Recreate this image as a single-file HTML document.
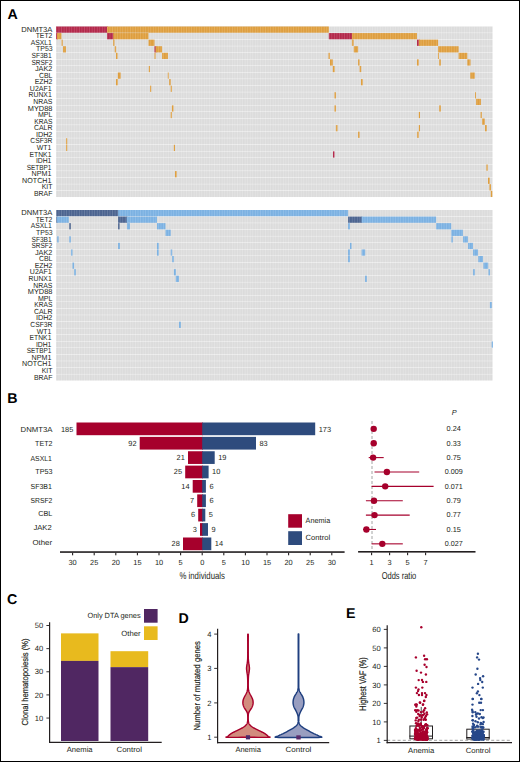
<!DOCTYPE html>
<html><head><meta charset="utf-8"><title>Figure</title>
<style>
html,body{margin:0;padding:0;background:#fff;}
body{width:520px;height:762px;overflow:hidden;}
svg{display:block;font-family:"Liberation Sans", sans-serif;text-rendering:geometricPrecision;}
</style></head>
<body>
<svg width="520" height="762" viewBox="0 0 520 762">
<defs>
<pattern id="cols" x="56" y="0" width="2.55" height="10" patternUnits="userSpaceOnUse">
<rect x="0" y="0" width="0.8" height="10" fill="#ffffff" fill-opacity="0.16"/>
<rect x="1.3" y="0" width="0.6" height="10" fill="#000000" fill-opacity="0.025"/>
</pattern>
</defs>
<rect x="0" y="0" width="520" height="762" fill="#fff"/>
<text x="7.40" y="18.80" font-size="14.2" text-anchor="start" fill="#000" font-weight="bold">A</text>
<rect x="56.00" y="26.50" width="436.60" height="6.22" fill="#dedede"/>
<rect x="56.00" y="33.07" width="436.60" height="6.22" fill="#dedede"/>
<rect x="56.00" y="39.64" width="436.60" height="6.22" fill="#dedede"/>
<rect x="56.00" y="46.22" width="436.60" height="6.22" fill="#dedede"/>
<rect x="56.00" y="52.79" width="436.60" height="6.22" fill="#dedede"/>
<rect x="56.00" y="59.36" width="436.60" height="6.22" fill="#dedede"/>
<rect x="56.00" y="65.93" width="436.60" height="6.22" fill="#dedede"/>
<rect x="56.00" y="72.50" width="436.60" height="6.22" fill="#dedede"/>
<rect x="56.00" y="79.08" width="436.60" height="6.22" fill="#dedede"/>
<rect x="56.00" y="85.65" width="436.60" height="6.22" fill="#dedede"/>
<rect x="56.00" y="92.22" width="436.60" height="6.22" fill="#dedede"/>
<rect x="56.00" y="98.79" width="436.60" height="6.22" fill="#dedede"/>
<rect x="56.00" y="105.36" width="436.60" height="6.22" fill="#dedede"/>
<rect x="56.00" y="111.94" width="436.60" height="6.22" fill="#dedede"/>
<rect x="56.00" y="118.51" width="436.60" height="6.22" fill="#dedede"/>
<rect x="56.00" y="125.08" width="436.60" height="6.22" fill="#dedede"/>
<rect x="56.00" y="131.65" width="436.60" height="6.22" fill="#dedede"/>
<rect x="56.00" y="138.22" width="436.60" height="6.22" fill="#dedede"/>
<rect x="56.00" y="144.80" width="436.60" height="6.22" fill="#dedede"/>
<rect x="56.00" y="151.37" width="436.60" height="6.22" fill="#dedede"/>
<rect x="56.00" y="157.94" width="436.60" height="6.22" fill="#dedede"/>
<rect x="56.00" y="164.51" width="436.60" height="6.22" fill="#dedede"/>
<rect x="56.00" y="171.08" width="436.60" height="6.22" fill="#dedede"/>
<rect x="56.00" y="177.66" width="436.60" height="6.22" fill="#dedede"/>
<rect x="56.00" y="184.23" width="436.60" height="6.22" fill="#dedede"/>
<rect x="56.00" y="190.80" width="436.60" height="6.22" fill="#dedede"/>
<rect x="56.00" y="26.50" width="51.80" height="6.22" fill="#b5294c"/>
<rect x="107.00" y="26.50" width="221.80" height="6.22" fill="#e0a040"/>
<rect x="56.00" y="33.07" width="1.80" height="6.22" fill="#b5294c"/>
<rect x="57.00" y="33.07" width="4.50" height="6.22" fill="#e0a040"/>
<rect x="107.00" y="33.07" width="7.00" height="6.22" fill="#b5294c"/>
<rect x="113.20" y="33.07" width="35.30" height="6.22" fill="#e0a040"/>
<rect x="328.80" y="33.07" width="23.90" height="6.22" fill="#b5294c"/>
<rect x="351.90" y="33.07" width="65.10" height="6.22" fill="#e0a040"/>
<rect x="61.50" y="39.64" width="1.20" height="6.22" fill="#e0a040"/>
<rect x="113.20" y="39.64" width="1.30" height="6.22" fill="#e0a040"/>
<rect x="148.50" y="39.64" width="6.00" height="6.22" fill="#e0a040"/>
<rect x="351.90" y="39.64" width="1.70" height="6.22" fill="#e0a040"/>
<rect x="417.00" y="39.64" width="2.60" height="6.22" fill="#b5294c"/>
<rect x="418.80" y="39.64" width="19.30" height="6.22" fill="#e0a040"/>
<rect x="63.00" y="46.22" width="2.90" height="6.22" fill="#e0a040"/>
<rect x="114.70" y="46.22" width="1.40" height="6.22" fill="#e0a040"/>
<rect x="154.50" y="46.22" width="1.90" height="6.22" fill="#b5294c"/>
<rect x="155.60" y="46.22" width="6.50" height="6.22" fill="#e0a040"/>
<rect x="353.80" y="46.22" width="4.30" height="6.22" fill="#e0a040"/>
<rect x="438.10" y="46.22" width="20.50" height="6.22" fill="#e0a040"/>
<rect x="116.00" y="52.79" width="1.60" height="6.22" fill="#e0a040"/>
<rect x="154.50" y="52.79" width="1.10" height="6.22" fill="#e0a040"/>
<rect x="162.10" y="52.79" width="5.80" height="6.22" fill="#e0a040"/>
<rect x="328.50" y="52.79" width="1.40" height="6.22" fill="#e0a040"/>
<rect x="438.10" y="52.79" width="0.90" height="6.22" fill="#e0a040"/>
<rect x="458.60" y="52.79" width="8.70" height="6.22" fill="#e0a040"/>
<rect x="330.00" y="59.36" width="2.80" height="6.22" fill="#e0a040"/>
<rect x="358.10" y="59.36" width="1.50" height="6.22" fill="#e0a040"/>
<rect x="417.00" y="59.36" width="1.80" height="6.22" fill="#e0a040"/>
<rect x="439.20" y="59.36" width="1.60" height="6.22" fill="#e0a040"/>
<rect x="467.30" y="59.36" width="3.20" height="6.22" fill="#e0a040"/>
<rect x="148.80" y="65.93" width="1.10" height="6.22" fill="#e0a040"/>
<rect x="332.80" y="65.93" width="1.90" height="6.22" fill="#e0a040"/>
<rect x="359.60" y="65.93" width="1.60" height="6.22" fill="#e0a040"/>
<rect x="117.80" y="72.50" width="2.90" height="6.22" fill="#e0a040"/>
<rect x="167.80" y="72.50" width="1.00" height="6.22" fill="#e0a040"/>
<rect x="470.30" y="72.50" width="4.50" height="6.22" fill="#e0a040"/>
<rect x="116.00" y="79.08" width="1.80" height="6.22" fill="#e0a040"/>
<rect x="169.20" y="79.08" width="1.50" height="6.22" fill="#e0a040"/>
<rect x="361.00" y="79.08" width="1.80" height="6.22" fill="#e0a040"/>
<rect x="150.00" y="85.65" width="1.20" height="6.22" fill="#e0a040"/>
<rect x="170.70" y="85.65" width="1.20" height="6.22" fill="#e0a040"/>
<rect x="334.40" y="92.22" width="1.50" height="6.22" fill="#e0a040"/>
<rect x="475.00" y="92.22" width="0.90" height="6.22" fill="#e0a040"/>
<rect x="476.10" y="98.79" width="4.80" height="6.22" fill="#e0a040"/>
<rect x="171.90" y="105.36" width="1.60" height="6.22" fill="#e0a040"/>
<rect x="334.40" y="105.36" width="1.50" height="6.22" fill="#e0a040"/>
<rect x="439.20" y="105.36" width="1.60" height="6.22" fill="#e0a040"/>
<rect x="170.70" y="111.94" width="1.20" height="6.22" fill="#e0a040"/>
<rect x="418.80" y="111.94" width="1.20" height="6.22" fill="#e0a040"/>
<rect x="480.60" y="111.94" width="1.20" height="6.22" fill="#e0a040"/>
<rect x="482.10" y="118.51" width="2.70" height="6.22" fill="#e0a040"/>
<rect x="335.90" y="125.08" width="1.60" height="6.22" fill="#e0a040"/>
<rect x="418.80" y="125.08" width="1.20" height="6.22" fill="#e0a040"/>
<rect x="485.00" y="125.08" width="1.70" height="6.22" fill="#e0a040"/>
<rect x="358.10" y="131.65" width="1.50" height="6.22" fill="#e0a040"/>
<rect x="417.20" y="131.65" width="1.60" height="6.22" fill="#e0a040"/>
<rect x="66.00" y="138.22" width="1.20" height="6.22" fill="#e0a040"/>
<rect x="66.00" y="144.80" width="1.20" height="6.22" fill="#e0a040"/>
<rect x="173.80" y="144.80" width="1.20" height="6.22" fill="#e0a040"/>
<rect x="333.00" y="151.37" width="1.50" height="6.22" fill="#b5294c"/>
<rect x="486.40" y="164.51" width="1.40" height="6.22" fill="#e0a040"/>
<rect x="175.00" y="171.08" width="1.70" height="6.22" fill="#e0a040"/>
<rect x="488.00" y="177.66" width="1.70" height="6.22" fill="#e0a040"/>
<rect x="489.40" y="184.23" width="1.60" height="6.22" fill="#e0a040"/>
<rect x="490.80" y="190.80" width="1.50" height="6.22" fill="#e0a040"/>
<rect x="56.0" y="26.50" width="436.60" height="170.87" fill="url(#cols)"/>
<text x="52.40" y="31.75" font-size="7.4" text-anchor="end" fill="#231f20" stroke="#231f20" stroke-width="0.0" textLength="31.20" lengthAdjust="spacingAndGlyphs">DNMT3A</text>
<text x="52.40" y="38.32" font-size="7.4" text-anchor="end" fill="#231f20" stroke="#231f20" stroke-width="0.0" textLength="16.70" lengthAdjust="spacingAndGlyphs">TET2</text>
<text x="51.70" y="44.89" font-size="7.4" text-anchor="end" fill="#231f20" stroke="#231f20" stroke-width="0.0" textLength="21.00" lengthAdjust="spacingAndGlyphs">ASXL1</text>
<text x="52.60" y="51.47" font-size="7.4" text-anchor="end" fill="#231f20" stroke="#231f20" stroke-width="0.0" textLength="16.50" lengthAdjust="spacingAndGlyphs">TP53</text>
<text x="51.70" y="58.04" font-size="7.4" text-anchor="end" fill="#231f20" stroke="#231f20" stroke-width="0.0" textLength="20.20" lengthAdjust="spacingAndGlyphs">SF3B1</text>
<text x="52.40" y="64.61" font-size="7.4" text-anchor="end" fill="#231f20" stroke="#231f20" stroke-width="0.0" textLength="20.90" lengthAdjust="spacingAndGlyphs">SRSF2</text>
<text x="52.40" y="71.18" font-size="7.4" text-anchor="end" fill="#231f20" stroke="#231f20" stroke-width="0.0" textLength="17.50" lengthAdjust="spacingAndGlyphs">JAK2</text>
<text x="52.40" y="77.75" font-size="7.4" text-anchor="end" fill="#231f20" stroke="#231f20" stroke-width="0.0" textLength="13.50" lengthAdjust="spacingAndGlyphs">CBL</text>
<text x="52.40" y="84.33" font-size="7.4" text-anchor="end" fill="#231f20" stroke="#231f20" stroke-width="0.0" textLength="17.70" lengthAdjust="spacingAndGlyphs">EZH2</text>
<text x="51.70" y="90.90" font-size="7.4" text-anchor="end" fill="#231f20" stroke="#231f20" stroke-width="0.0" textLength="21.90" lengthAdjust="spacingAndGlyphs">U2AF1</text>
<text x="51.70" y="97.47" font-size="7.4" text-anchor="end" fill="#231f20" stroke="#231f20" stroke-width="0.0" textLength="23.10" lengthAdjust="spacingAndGlyphs">RUNX1</text>
<text x="52.40" y="104.04" font-size="7.4" text-anchor="end" fill="#231f20" stroke="#231f20" stroke-width="0.0" textLength="19.10" lengthAdjust="spacingAndGlyphs">NRAS</text>
<text x="52.40" y="110.61" font-size="7.4" text-anchor="end" fill="#231f20" stroke="#231f20" stroke-width="0.0" textLength="24.60" lengthAdjust="spacingAndGlyphs">MYD88</text>
<text x="52.40" y="117.19" font-size="7.4" text-anchor="end" fill="#231f20" stroke="#231f20" stroke-width="0.0" textLength="14.50" lengthAdjust="spacingAndGlyphs">MPL</text>
<text x="52.40" y="123.76" font-size="7.4" text-anchor="end" fill="#231f20" stroke="#231f20" stroke-width="0.0" textLength="18.10" lengthAdjust="spacingAndGlyphs">KRAS</text>
<text x="52.40" y="130.33" font-size="7.4" text-anchor="end" fill="#231f20" stroke="#231f20" stroke-width="0.0" textLength="18.50" lengthAdjust="spacingAndGlyphs">CALR</text>
<text x="52.40" y="136.90" font-size="7.4" text-anchor="end" fill="#231f20" stroke="#231f20" stroke-width="0.0" textLength="16.50" lengthAdjust="spacingAndGlyphs">IDH2</text>
<text x="52.40" y="143.47" font-size="7.4" text-anchor="end" fill="#231f20" stroke="#231f20" stroke-width="0.0" textLength="22.10" lengthAdjust="spacingAndGlyphs">CSF3R</text>
<text x="51.40" y="150.05" font-size="7.4" text-anchor="end" fill="#231f20" stroke="#231f20" stroke-width="0.0" textLength="14.60" lengthAdjust="spacingAndGlyphs">WT1</text>
<text x="51.40" y="156.62" font-size="7.4" text-anchor="end" fill="#231f20" stroke="#231f20" stroke-width="0.0" textLength="21.80" lengthAdjust="spacingAndGlyphs">ETNK1</text>
<text x="51.40" y="163.19" font-size="7.4" text-anchor="end" fill="#231f20" stroke="#231f20" stroke-width="0.0" textLength="15.50" lengthAdjust="spacingAndGlyphs">IDH1</text>
<text x="51.40" y="169.76" font-size="7.4" text-anchor="end" fill="#231f20" stroke="#231f20" stroke-width="0.0" textLength="24.70" lengthAdjust="spacingAndGlyphs">SETBP1</text>
<text x="51.40" y="176.33" font-size="7.4" text-anchor="end" fill="#231f20" stroke="#231f20" stroke-width="0.0" textLength="19.80" lengthAdjust="spacingAndGlyphs">NPM1</text>
<text x="51.40" y="182.91" font-size="7.4" text-anchor="end" fill="#231f20" stroke="#231f20" stroke-width="0.0" textLength="29.30" lengthAdjust="spacingAndGlyphs">NOTCH1</text>
<text x="52.40" y="189.48" font-size="7.4" text-anchor="end" fill="#231f20" stroke="#231f20" stroke-width="0.0" textLength="10.70" lengthAdjust="spacingAndGlyphs">KIT</text>
<text x="52.40" y="196.05" font-size="7.4" text-anchor="end" fill="#231f20" stroke="#231f20" stroke-width="0.0" textLength="18.40" lengthAdjust="spacingAndGlyphs">BRAF</text>
<rect x="56.00" y="210.00" width="436.60" height="6.22" fill="#dedede"/>
<rect x="56.00" y="216.57" width="436.60" height="6.22" fill="#dedede"/>
<rect x="56.00" y="223.14" width="436.60" height="6.22" fill="#dedede"/>
<rect x="56.00" y="229.72" width="436.60" height="6.22" fill="#dedede"/>
<rect x="56.00" y="236.29" width="436.60" height="6.22" fill="#dedede"/>
<rect x="56.00" y="242.86" width="436.60" height="6.22" fill="#dedede"/>
<rect x="56.00" y="249.43" width="436.60" height="6.22" fill="#dedede"/>
<rect x="56.00" y="256.00" width="436.60" height="6.22" fill="#dedede"/>
<rect x="56.00" y="262.58" width="436.60" height="6.22" fill="#dedede"/>
<rect x="56.00" y="269.15" width="436.60" height="6.22" fill="#dedede"/>
<rect x="56.00" y="275.72" width="436.60" height="6.22" fill="#dedede"/>
<rect x="56.00" y="282.29" width="436.60" height="6.22" fill="#dedede"/>
<rect x="56.00" y="288.86" width="436.60" height="6.22" fill="#dedede"/>
<rect x="56.00" y="295.44" width="436.60" height="6.22" fill="#dedede"/>
<rect x="56.00" y="302.01" width="436.60" height="6.22" fill="#dedede"/>
<rect x="56.00" y="308.58" width="436.60" height="6.22" fill="#dedede"/>
<rect x="56.00" y="315.15" width="436.60" height="6.22" fill="#dedede"/>
<rect x="56.00" y="321.72" width="436.60" height="6.22" fill="#dedede"/>
<rect x="56.00" y="328.30" width="436.60" height="6.22" fill="#dedede"/>
<rect x="56.00" y="334.87" width="436.60" height="6.22" fill="#dedede"/>
<rect x="56.00" y="341.44" width="436.60" height="6.22" fill="#dedede"/>
<rect x="56.00" y="348.01" width="436.60" height="6.22" fill="#dedede"/>
<rect x="56.00" y="354.58" width="436.60" height="6.22" fill="#dedede"/>
<rect x="56.00" y="361.16" width="436.60" height="6.22" fill="#dedede"/>
<rect x="56.00" y="367.73" width="436.60" height="6.22" fill="#dedede"/>
<rect x="56.00" y="374.30" width="436.60" height="6.22" fill="#dedede"/>
<rect x="56.20" y="210.00" width="62.70" height="6.22" fill="#4d6591"/>
<rect x="118.10" y="210.00" width="230.00" height="6.22" fill="#7db3e4"/>
<rect x="56.20" y="216.57" width="1.40" height="6.22" fill="#4d6591"/>
<rect x="56.80" y="216.57" width="12.00" height="6.22" fill="#7db3e4"/>
<rect x="118.10" y="216.57" width="9.40" height="6.22" fill="#4d6591"/>
<rect x="126.70" y="216.57" width="30.30" height="6.22" fill="#7db3e4"/>
<rect x="348.10" y="216.57" width="14.30" height="6.22" fill="#4d6591"/>
<rect x="361.60" y="216.57" width="74.50" height="6.22" fill="#7db3e4"/>
<rect x="69.20" y="223.14" width="1.60" height="6.22" fill="#4d6591"/>
<rect x="118.10" y="223.14" width="1.50" height="6.22" fill="#4d6591"/>
<rect x="127.00" y="223.14" width="2.90" height="6.22" fill="#7db3e4"/>
<rect x="157.00" y="223.14" width="8.50" height="6.22" fill="#7db3e4"/>
<rect x="348.10" y="223.14" width="1.90" height="6.22" fill="#7db3e4"/>
<rect x="436.10" y="223.14" width="15.10" height="6.22" fill="#7db3e4"/>
<rect x="165.50" y="229.72" width="5.20" height="6.22" fill="#7db3e4"/>
<rect x="451.30" y="229.72" width="11.60" height="6.22" fill="#7db3e4"/>
<rect x="57.20" y="236.29" width="1.50" height="6.22" fill="#7db3e4"/>
<rect x="69.20" y="236.29" width="1.60" height="6.22" fill="#7db3e4"/>
<rect x="451.30" y="236.29" width="1.50" height="6.22" fill="#7db3e4"/>
<rect x="463.10" y="236.29" width="4.80" height="6.22" fill="#7db3e4"/>
<rect x="118.10" y="242.86" width="1.80" height="6.22" fill="#7db3e4"/>
<rect x="157.00" y="242.86" width="1.80" height="6.22" fill="#7db3e4"/>
<rect x="350.00" y="242.86" width="1.50" height="6.22" fill="#7db3e4"/>
<rect x="468.10" y="242.86" width="4.90" height="6.22" fill="#7db3e4"/>
<rect x="71.00" y="249.43" width="1.50" height="6.22" fill="#7db3e4"/>
<rect x="157.00" y="249.43" width="1.80" height="6.22" fill="#7db3e4"/>
<rect x="170.70" y="249.43" width="1.50" height="6.22" fill="#7db3e4"/>
<rect x="348.10" y="249.43" width="1.90" height="6.22" fill="#7db3e4"/>
<rect x="361.60" y="249.43" width="3.60" height="6.22" fill="#7db3e4"/>
<rect x="473.10" y="249.43" width="4.90" height="6.22" fill="#7db3e4"/>
<rect x="172.20" y="256.00" width="1.70" height="6.22" fill="#7db3e4"/>
<rect x="348.10" y="256.00" width="1.90" height="6.22" fill="#7db3e4"/>
<rect x="478.30" y="256.00" width="4.70" height="6.22" fill="#7db3e4"/>
<rect x="72.50" y="262.58" width="1.60" height="6.22" fill="#7db3e4"/>
<rect x="483.40" y="262.58" width="4.80" height="6.22" fill="#7db3e4"/>
<rect x="74.10" y="269.15" width="1.70" height="6.22" fill="#7db3e4"/>
<rect x="173.90" y="269.15" width="1.90" height="6.22" fill="#7db3e4"/>
<rect x="473.10" y="269.15" width="1.80" height="6.22" fill="#7db3e4"/>
<rect x="488.50" y="269.15" width="1.50" height="6.22" fill="#7db3e4"/>
<rect x="175.80" y="275.72" width="3.20" height="6.22" fill="#7db3e4"/>
<rect x="365.00" y="275.72" width="1.80" height="6.22" fill="#7db3e4"/>
<rect x="489.90" y="302.01" width="1.80" height="6.22" fill="#7db3e4"/>
<rect x="179.00" y="321.72" width="1.80" height="6.22" fill="#7db3e4"/>
<rect x="491.70" y="341.44" width="1.30" height="6.22" fill="#7db3e4"/>
<rect x="56.0" y="210.00" width="436.60" height="170.87" fill="url(#cols)"/>
<text x="52.40" y="215.25" font-size="7.4" text-anchor="end" fill="#231f20" stroke="#231f20" stroke-width="0.0" textLength="31.20" lengthAdjust="spacingAndGlyphs">DNMT3A</text>
<text x="52.40" y="221.82" font-size="7.4" text-anchor="end" fill="#231f20" stroke="#231f20" stroke-width="0.0" textLength="16.70" lengthAdjust="spacingAndGlyphs">TET2</text>
<text x="51.70" y="228.39" font-size="7.4" text-anchor="end" fill="#231f20" stroke="#231f20" stroke-width="0.0" textLength="21.00" lengthAdjust="spacingAndGlyphs">ASXL1</text>
<text x="52.60" y="234.97" font-size="7.4" text-anchor="end" fill="#231f20" stroke="#231f20" stroke-width="0.0" textLength="16.50" lengthAdjust="spacingAndGlyphs">TP53</text>
<text x="51.70" y="241.54" font-size="7.4" text-anchor="end" fill="#231f20" stroke="#231f20" stroke-width="0.0" textLength="20.20" lengthAdjust="spacingAndGlyphs">SF3B1</text>
<text x="52.40" y="248.11" font-size="7.4" text-anchor="end" fill="#231f20" stroke="#231f20" stroke-width="0.0" textLength="20.90" lengthAdjust="spacingAndGlyphs">SRSF2</text>
<text x="52.40" y="254.68" font-size="7.4" text-anchor="end" fill="#231f20" stroke="#231f20" stroke-width="0.0" textLength="17.50" lengthAdjust="spacingAndGlyphs">JAK2</text>
<text x="52.40" y="261.25" font-size="7.4" text-anchor="end" fill="#231f20" stroke="#231f20" stroke-width="0.0" textLength="13.50" lengthAdjust="spacingAndGlyphs">CBL</text>
<text x="52.40" y="267.83" font-size="7.4" text-anchor="end" fill="#231f20" stroke="#231f20" stroke-width="0.0" textLength="17.70" lengthAdjust="spacingAndGlyphs">EZH2</text>
<text x="51.70" y="274.40" font-size="7.4" text-anchor="end" fill="#231f20" stroke="#231f20" stroke-width="0.0" textLength="21.90" lengthAdjust="spacingAndGlyphs">U2AF1</text>
<text x="51.70" y="280.97" font-size="7.4" text-anchor="end" fill="#231f20" stroke="#231f20" stroke-width="0.0" textLength="23.10" lengthAdjust="spacingAndGlyphs">RUNX1</text>
<text x="52.40" y="287.54" font-size="7.4" text-anchor="end" fill="#231f20" stroke="#231f20" stroke-width="0.0" textLength="19.10" lengthAdjust="spacingAndGlyphs">NRAS</text>
<text x="52.40" y="294.11" font-size="7.4" text-anchor="end" fill="#231f20" stroke="#231f20" stroke-width="0.0" textLength="24.60" lengthAdjust="spacingAndGlyphs">MYD88</text>
<text x="52.40" y="300.69" font-size="7.4" text-anchor="end" fill="#231f20" stroke="#231f20" stroke-width="0.0" textLength="14.50" lengthAdjust="spacingAndGlyphs">MPL</text>
<text x="52.40" y="307.26" font-size="7.4" text-anchor="end" fill="#231f20" stroke="#231f20" stroke-width="0.0" textLength="18.10" lengthAdjust="spacingAndGlyphs">KRAS</text>
<text x="52.40" y="313.83" font-size="7.4" text-anchor="end" fill="#231f20" stroke="#231f20" stroke-width="0.0" textLength="18.50" lengthAdjust="spacingAndGlyphs">CALR</text>
<text x="52.40" y="320.40" font-size="7.4" text-anchor="end" fill="#231f20" stroke="#231f20" stroke-width="0.0" textLength="16.50" lengthAdjust="spacingAndGlyphs">IDH2</text>
<text x="52.40" y="326.97" font-size="7.4" text-anchor="end" fill="#231f20" stroke="#231f20" stroke-width="0.0" textLength="22.10" lengthAdjust="spacingAndGlyphs">CSF3R</text>
<text x="51.40" y="333.55" font-size="7.4" text-anchor="end" fill="#231f20" stroke="#231f20" stroke-width="0.0" textLength="14.60" lengthAdjust="spacingAndGlyphs">WT1</text>
<text x="51.40" y="340.12" font-size="7.4" text-anchor="end" fill="#231f20" stroke="#231f20" stroke-width="0.0" textLength="21.80" lengthAdjust="spacingAndGlyphs">ETNK1</text>
<text x="51.40" y="346.69" font-size="7.4" text-anchor="end" fill="#231f20" stroke="#231f20" stroke-width="0.0" textLength="15.50" lengthAdjust="spacingAndGlyphs">IDH1</text>
<text x="51.40" y="353.26" font-size="7.4" text-anchor="end" fill="#231f20" stroke="#231f20" stroke-width="0.0" textLength="24.70" lengthAdjust="spacingAndGlyphs">SETBP1</text>
<text x="51.40" y="359.83" font-size="7.4" text-anchor="end" fill="#231f20" stroke="#231f20" stroke-width="0.0" textLength="19.80" lengthAdjust="spacingAndGlyphs">NPM1</text>
<text x="51.40" y="366.41" font-size="7.4" text-anchor="end" fill="#231f20" stroke="#231f20" stroke-width="0.0" textLength="29.30" lengthAdjust="spacingAndGlyphs">NOTCH1</text>
<text x="52.40" y="372.98" font-size="7.4" text-anchor="end" fill="#231f20" stroke="#231f20" stroke-width="0.0" textLength="10.70" lengthAdjust="spacingAndGlyphs">KIT</text>
<text x="52.40" y="379.55" font-size="7.4" text-anchor="end" fill="#231f20" stroke="#231f20" stroke-width="0.0" textLength="18.40" lengthAdjust="spacingAndGlyphs">BRAF</text>
<text x="7.30" y="402.60" font-size="14.2" text-anchor="start" fill="#000" font-weight="bold">B</text>
<rect x="76.50" y="422.50" width="126.50" height="12.70" fill="#a6002c"/>
<rect x="202.20" y="422.50" width="113.00" height="12.70" fill="#2e4b7d"/>
<text x="52.50" y="431.90" font-size="7.3" text-anchor="end" fill="#231f20" stroke="#231f20" stroke-width="0.0" textLength="31.90" lengthAdjust="spacingAndGlyphs">DNMT3A</text>
<text x="73.30" y="431.80" font-size="7.4" text-anchor="end" fill="#231f20" stroke="#231f20" stroke-width="0.0">185</text>
<text x="318.70" y="431.80" font-size="7.4" text-anchor="start" fill="#231f20" stroke="#231f20" stroke-width="0.0">173</text>
<rect x="139.70" y="436.88" width="63.30" height="12.70" fill="#a6002c"/>
<rect x="202.20" y="436.88" width="53.80" height="12.70" fill="#2e4b7d"/>
<text x="52.50" y="446.40" font-size="7.3" text-anchor="end" fill="#231f20" stroke="#231f20" stroke-width="0.0" textLength="17.40" lengthAdjust="spacingAndGlyphs">TET2</text>
<text x="136.50" y="446.00" font-size="7.4" text-anchor="end" fill="#231f20" stroke="#231f20" stroke-width="0.0">92</text>
<text x="259.50" y="446.00" font-size="7.4" text-anchor="start" fill="#231f20" stroke="#231f20" stroke-width="0.0">83</text>
<rect x="188.00" y="451.25" width="15.00" height="12.70" fill="#a6002c"/>
<rect x="202.20" y="451.25" width="12.50" height="12.70" fill="#2e4b7d"/>
<text x="51.80" y="460.50" font-size="7.3" text-anchor="end" fill="#231f20" stroke="#231f20" stroke-width="0.0" textLength="21.30" lengthAdjust="spacingAndGlyphs">ASXL1</text>
<text x="184.80" y="460.00" font-size="7.4" text-anchor="end" fill="#231f20" stroke="#231f20" stroke-width="0.0">21</text>
<text x="218.20" y="460.00" font-size="7.4" text-anchor="start" fill="#231f20" stroke="#231f20" stroke-width="0.0">19</text>
<rect x="185.20" y="465.62" width="17.80" height="12.70" fill="#a6002c"/>
<rect x="202.20" y="465.62" width="6.40" height="12.70" fill="#2e4b7d"/>
<text x="52.50" y="473.80" font-size="7.3" text-anchor="end" fill="#231f20" stroke="#231f20" stroke-width="0.0" textLength="17.20" lengthAdjust="spacingAndGlyphs">TP53</text>
<text x="182.00" y="474.20" font-size="7.4" text-anchor="end" fill="#231f20" stroke="#231f20" stroke-width="0.0">25</text>
<text x="212.10" y="474.20" font-size="7.4" text-anchor="start" fill="#231f20" stroke="#231f20" stroke-width="0.0">10</text>
<rect x="192.70" y="480.00" width="10.30" height="12.70" fill="#a6002c"/>
<rect x="202.20" y="480.00" width="3.70" height="12.70" fill="#2e4b7d"/>
<text x="51.90" y="488.90" font-size="7.3" text-anchor="end" fill="#231f20" stroke="#231f20" stroke-width="0.0" textLength="21.40" lengthAdjust="spacingAndGlyphs">SF3B1</text>
<text x="189.50" y="488.60" font-size="7.4" text-anchor="end" fill="#231f20" stroke="#231f20" stroke-width="0.0">14</text>
<text x="209.40" y="488.60" font-size="7.4" text-anchor="start" fill="#231f20" stroke="#231f20" stroke-width="0.0">6</text>
<rect x="197.20" y="494.38" width="5.80" height="12.70" fill="#a6002c"/>
<rect x="202.20" y="494.38" width="3.70" height="12.70" fill="#2e4b7d"/>
<text x="52.40" y="502.70" font-size="7.3" text-anchor="end" fill="#231f20" stroke="#231f20" stroke-width="0.0" textLength="21.90" lengthAdjust="spacingAndGlyphs">SRSF2</text>
<text x="194.00" y="502.80" font-size="7.4" text-anchor="end" fill="#231f20" stroke="#231f20" stroke-width="0.0">7</text>
<text x="209.40" y="502.80" font-size="7.4" text-anchor="start" fill="#231f20" stroke="#231f20" stroke-width="0.0">6</text>
<rect x="198.20" y="508.75" width="4.80" height="12.70" fill="#a6002c"/>
<rect x="202.20" y="508.75" width="3.10" height="12.70" fill="#2e4b7d"/>
<text x="52.40" y="516.10" font-size="7.3" text-anchor="end" fill="#231f20" stroke="#231f20" stroke-width="0.0" textLength="14.10" lengthAdjust="spacingAndGlyphs">CBL</text>
<text x="195.00" y="517.20" font-size="7.4" text-anchor="end" fill="#231f20" stroke="#231f20" stroke-width="0.0">6</text>
<text x="208.80" y="517.20" font-size="7.4" text-anchor="start" fill="#231f20" stroke="#231f20" stroke-width="0.0">5</text>
<rect x="200.00" y="523.12" width="3.00" height="12.70" fill="#a6002c"/>
<rect x="202.20" y="523.12" width="5.80" height="12.70" fill="#2e4b7d"/>
<text x="51.70" y="529.90" font-size="7.3" text-anchor="end" fill="#231f20" stroke="#231f20" stroke-width="0.0" textLength="18.30" lengthAdjust="spacingAndGlyphs">JAK2</text>
<text x="196.80" y="531.50" font-size="7.4" text-anchor="end" fill="#231f20" stroke="#231f20" stroke-width="0.0">3</text>
<text x="211.50" y="531.50" font-size="7.4" text-anchor="start" fill="#231f20" stroke="#231f20" stroke-width="0.0">9</text>
<rect x="183.00" y="537.50" width="20.00" height="12.70" fill="#a6002c"/>
<rect x="202.20" y="537.50" width="9.10" height="12.70" fill="#2e4b7d"/>
<text x="52.10" y="544.60" font-size="7.3" text-anchor="end" fill="#231f20" stroke="#231f20" stroke-width="0.0" textLength="19.70" lengthAdjust="spacingAndGlyphs">Other</text>
<text x="179.80" y="545.90" font-size="7.4" text-anchor="end" fill="#231f20" stroke="#231f20" stroke-width="0.0">28</text>
<text x="214.80" y="545.90" font-size="7.4" text-anchor="start" fill="#231f20" stroke="#231f20" stroke-width="0.0">14</text>
<rect x="60.00" y="551.25" width="284.60" height="1.60" fill="#231f20"/>
<rect x="72.05" y="552.80" width="1.10" height="2.50" fill="#231f20"/>
<text x="72.60" y="565.00" font-size="7.4" text-anchor="middle" fill="#231f20" stroke="#231f20" stroke-width="0.0">30</text>
<rect x="93.65" y="552.80" width="1.10" height="2.50" fill="#231f20"/>
<text x="94.20" y="565.00" font-size="7.4" text-anchor="middle" fill="#231f20" stroke="#231f20" stroke-width="0.0">25</text>
<rect x="115.25" y="552.80" width="1.10" height="2.50" fill="#231f20"/>
<text x="115.80" y="565.00" font-size="7.4" text-anchor="middle" fill="#231f20" stroke="#231f20" stroke-width="0.0">20</text>
<rect x="136.85" y="552.80" width="1.10" height="2.50" fill="#231f20"/>
<text x="137.40" y="565.00" font-size="7.4" text-anchor="middle" fill="#231f20" stroke="#231f20" stroke-width="0.0">15</text>
<rect x="158.45" y="552.80" width="1.10" height="2.50" fill="#231f20"/>
<text x="159.00" y="565.00" font-size="7.4" text-anchor="middle" fill="#231f20" stroke="#231f20" stroke-width="0.0">10</text>
<rect x="180.05" y="552.80" width="1.10" height="2.50" fill="#231f20"/>
<text x="180.60" y="565.00" font-size="7.4" text-anchor="middle" fill="#231f20" stroke="#231f20" stroke-width="0.0">5</text>
<rect x="201.65" y="552.80" width="1.10" height="2.50" fill="#231f20"/>
<text x="202.20" y="565.00" font-size="7.4" text-anchor="middle" fill="#231f20" stroke="#231f20" stroke-width="0.0">0</text>
<rect x="223.25" y="552.80" width="1.10" height="2.50" fill="#231f20"/>
<text x="223.80" y="565.00" font-size="7.4" text-anchor="middle" fill="#231f20" stroke="#231f20" stroke-width="0.0">5</text>
<rect x="244.85" y="552.80" width="1.10" height="2.50" fill="#231f20"/>
<text x="245.40" y="565.00" font-size="7.4" text-anchor="middle" fill="#231f20" stroke="#231f20" stroke-width="0.0">10</text>
<rect x="266.45" y="552.80" width="1.10" height="2.50" fill="#231f20"/>
<text x="267.00" y="565.00" font-size="7.4" text-anchor="middle" fill="#231f20" stroke="#231f20" stroke-width="0.0">15</text>
<rect x="288.05" y="552.80" width="1.10" height="2.50" fill="#231f20"/>
<text x="288.60" y="565.00" font-size="7.4" text-anchor="middle" fill="#231f20" stroke="#231f20" stroke-width="0.0">20</text>
<rect x="309.65" y="552.80" width="1.10" height="2.50" fill="#231f20"/>
<text x="310.20" y="565.00" font-size="7.4" text-anchor="middle" fill="#231f20" stroke="#231f20" stroke-width="0.0">25</text>
<rect x="331.25" y="552.80" width="1.10" height="2.50" fill="#231f20"/>
<text x="331.80" y="565.00" font-size="7.4" text-anchor="middle" fill="#231f20" stroke="#231f20" stroke-width="0.0">30</text>
<text x="202.20" y="578.60" font-size="9.9" text-anchor="middle" fill="#231f20" stroke="#231f20" stroke-width="0.0" textLength="45.50" lengthAdjust="spacingAndGlyphs">% individuals</text>
<rect x="288.20" y="514.20" width="13.80" height="13.50" fill="#a6002c"/>
<rect x="288.20" y="531.20" width="13.80" height="13.80" fill="#2e4b7d"/>
<text x="305.60" y="522.60" font-size="7.5" text-anchor="start" fill="#231f20" stroke="#231f20" stroke-width="0.0" textLength="24.60" lengthAdjust="spacingAndGlyphs">Anemia</text>
<text x="305.60" y="540.20" font-size="7.5" text-anchor="start" fill="#231f20" stroke="#231f20" stroke-width="0.0" textLength="24.60" lengthAdjust="spacingAndGlyphs">Control</text>
<rect x="358.10" y="551.00" width="117.40" height="1.60" fill="#231f20"/>
<line x1="372.0" y1="421" x2="372.0" y2="551" stroke="#9a9a9a" stroke-width="0.9" stroke-dasharray="3,2"/>
<rect x="371.05" y="552.50" width="1.10" height="2.70" fill="#231f20"/>
<text x="371.60" y="565.00" font-size="7.4" text-anchor="middle" fill="#231f20" stroke="#231f20" stroke-width="0.0">1</text>
<rect x="389.05" y="552.50" width="1.10" height="2.70" fill="#231f20"/>
<text x="389.60" y="565.00" font-size="7.4" text-anchor="middle" fill="#231f20" stroke="#231f20" stroke-width="0.0">3</text>
<rect x="407.05" y="552.50" width="1.10" height="2.70" fill="#231f20"/>
<text x="407.60" y="565.00" font-size="7.4" text-anchor="middle" fill="#231f20" stroke="#231f20" stroke-width="0.0">5</text>
<rect x="425.05" y="552.50" width="1.10" height="2.70" fill="#231f20"/>
<text x="425.60" y="565.00" font-size="7.4" text-anchor="middle" fill="#231f20" stroke="#231f20" stroke-width="0.0">7</text>
<text x="399.00" y="578.90" font-size="9.9" text-anchor="middle" fill="#231f20" stroke="#231f20" stroke-width="0.0" textLength="34.60" lengthAdjust="spacingAndGlyphs">Odds ratio</text>
<circle cx="373.70" cy="428.85" r="3.2" fill="#a6002c"/>
<text x="453.70" y="431.40" font-size="7.3" text-anchor="middle" fill="#231f20" stroke="#231f20" stroke-width="0.0" textLength="14.20" lengthAdjust="spacingAndGlyphs">0.24</text>
<circle cx="373.70" cy="443.23" r="3.2" fill="#a6002c"/>
<text x="453.70" y="445.90" font-size="7.3" text-anchor="middle" fill="#231f20" stroke="#231f20" stroke-width="0.0" textLength="14.20" lengthAdjust="spacingAndGlyphs">0.33</text>
<line x1="368.70" y1="457.60" x2="383.70" y2="457.60" stroke="#a6002c" stroke-width="1.1"/>
<circle cx="373.10" cy="457.60" r="3.2" fill="#a6002c"/>
<text x="453.70" y="460.20" font-size="7.3" text-anchor="middle" fill="#231f20" stroke="#231f20" stroke-width="0.0" textLength="14.20" lengthAdjust="spacingAndGlyphs">0.75</text>
<line x1="374.50" y1="471.98" x2="419.20" y2="471.98" stroke="#a6002c" stroke-width="1.1"/>
<circle cx="386.90" cy="471.98" r="3.2" fill="#a6002c"/>
<text x="453.70" y="474.20" font-size="7.3" text-anchor="middle" fill="#231f20" stroke="#231f20" stroke-width="0.0" textLength="17.90" lengthAdjust="spacingAndGlyphs">0.009</text>
<line x1="371.60" y1="486.35" x2="433.60" y2="486.35" stroke="#a6002c" stroke-width="1.1"/>
<circle cx="385.20" cy="486.35" r="3.2" fill="#a6002c"/>
<text x="453.70" y="488.50" font-size="7.3" text-anchor="middle" fill="#231f20" stroke="#231f20" stroke-width="0.0" textLength="17.90" lengthAdjust="spacingAndGlyphs">0.071</text>
<line x1="365.90" y1="500.73" x2="402.80" y2="500.73" stroke="#a6002c" stroke-width="1.1"/>
<circle cx="374.00" cy="500.73" r="3.2" fill="#a6002c"/>
<text x="453.70" y="502.80" font-size="7.3" text-anchor="middle" fill="#231f20" stroke="#231f20" stroke-width="0.0" textLength="14.20" lengthAdjust="spacingAndGlyphs">0.79</text>
<line x1="365.90" y1="515.10" x2="409.70" y2="515.10" stroke="#a6002c" stroke-width="1.1"/>
<circle cx="374.50" cy="515.10" r="3.2" fill="#a6002c"/>
<text x="453.70" y="517.00" font-size="7.3" text-anchor="middle" fill="#231f20" stroke="#231f20" stroke-width="0.0" textLength="14.20" lengthAdjust="spacingAndGlyphs">0.77</text>
<line x1="363.00" y1="529.48" x2="376.00" y2="529.48" stroke="#a6002c" stroke-width="1.1"/>
<circle cx="366.40" cy="529.48" r="3.2" fill="#a6002c"/>
<text x="453.70" y="531.60" font-size="7.3" text-anchor="middle" fill="#231f20" stroke="#231f20" stroke-width="0.0" textLength="14.20" lengthAdjust="spacingAndGlyphs">0.15</text>
<line x1="371.60" y1="543.85" x2="402.80" y2="543.85" stroke="#a6002c" stroke-width="1.1"/>
<circle cx="382.30" cy="543.85" r="3.2" fill="#a6002c"/>
<text x="453.70" y="545.80" font-size="7.3" text-anchor="middle" fill="#231f20" stroke="#231f20" stroke-width="0.0" textLength="17.90" lengthAdjust="spacingAndGlyphs">0.027</text>
<text x="454.10" y="415.30" font-size="7.3" text-anchor="middle" fill="#231f20" stroke="#231f20" stroke-width="0.0" font-style="italic">P</text>
<text x="6.90" y="604.20" font-size="14.2" text-anchor="start" fill="#000" font-weight="bold">C</text>
<rect x="61.00" y="633.37" width="37.50" height="27.54" fill="#e8ba1e"/>
<rect x="61.00" y="660.90" width="37.50" height="80.10" fill="#502762"/>
<rect x="110.50" y="651.19" width="37.70" height="15.97" fill="#e8ba1e"/>
<rect x="110.50" y="667.15" width="37.70" height="73.85" fill="#502762"/>
<line x1="49.60" y1="622.30" x2="49.60" y2="742.90" stroke="#231f20" stroke-width="1.2"/>
<line x1="49.00" y1="742.40" x2="161.70" y2="742.40" stroke="#231f20" stroke-width="1.2"/>
<line x1="46.40" y1="718.06" x2="49.60" y2="718.06" stroke="#231f20" stroke-width="0.9"/>
<text x="43.30" y="720.76" font-size="7.6" text-anchor="end" fill="#231f20" stroke="#231f20" stroke-width="0.0">10</text>
<line x1="46.40" y1="694.92" x2="49.60" y2="694.92" stroke="#231f20" stroke-width="0.9"/>
<text x="43.30" y="697.62" font-size="7.6" text-anchor="end" fill="#231f20" stroke="#231f20" stroke-width="0.0">20</text>
<line x1="46.40" y1="671.78" x2="49.60" y2="671.78" stroke="#231f20" stroke-width="0.9"/>
<text x="43.30" y="674.48" font-size="7.6" text-anchor="end" fill="#231f20" stroke="#231f20" stroke-width="0.0">30</text>
<line x1="46.40" y1="648.64" x2="49.60" y2="648.64" stroke="#231f20" stroke-width="0.9"/>
<text x="43.30" y="651.34" font-size="7.6" text-anchor="end" fill="#231f20" stroke="#231f20" stroke-width="0.0">40</text>
<line x1="46.40" y1="625.50" x2="49.60" y2="625.50" stroke="#231f20" stroke-width="0.9"/>
<text x="43.30" y="628.20" font-size="7.6" text-anchor="end" fill="#231f20" stroke="#231f20" stroke-width="0.0">50</text>
<rect x="144.00" y="609.00" width="13.60" height="13.70" fill="#502762"/>
<rect x="144.00" y="626.30" width="13.60" height="13.70" fill="#e8ba1e"/>
<text x="140.60" y="618.40" font-size="7.5" text-anchor="end" fill="#231f20" stroke="#231f20" stroke-width="0.0" textLength="53.20" lengthAdjust="spacingAndGlyphs">Only DTA genes</text>
<text x="140.60" y="635.70" font-size="7.5" text-anchor="end" fill="#231f20" stroke="#231f20" stroke-width="0.0" textLength="19.30" lengthAdjust="spacingAndGlyphs">Other</text>
<text x="79.65" y="752.30" font-size="7.5" text-anchor="middle" fill="#231f20" stroke="#231f20" stroke-width="0.0" textLength="25.90" lengthAdjust="spacingAndGlyphs">Anemia</text>
<text x="129.20" y="752.30" font-size="7.5" text-anchor="middle" fill="#231f20" stroke="#231f20" stroke-width="0.0" textLength="25.40" lengthAdjust="spacingAndGlyphs">Control</text>
<text transform="translate(28.2,682.0) rotate(-90)" x="0" y="0" font-size="8.8" text-anchor="middle" fill="#231f20" stroke="#231f20" stroke-width="0.2" textLength="87.2" lengthAdjust="spacingAndGlyphs">Clonal hematopoiesis (%)</text>
<text x="178.60" y="622.80" font-size="14.2" text-anchor="start" fill="#000" font-weight="bold">D</text>
<line x1="217.60" y1="628.80" x2="217.60" y2="743.20" stroke="#231f20" stroke-width="1.2"/>
<line x1="217.00" y1="742.60" x2="329.20" y2="742.60" stroke="#231f20" stroke-width="1.2"/>
<line x1="214.20" y1="634.10" x2="217.60" y2="634.10" stroke="#231f20" stroke-width="0.9"/>
<text x="211.40" y="636.70" font-size="7.6" text-anchor="end" fill="#231f20" stroke="#231f20" stroke-width="0.0">4</text>
<line x1="214.20" y1="668.40" x2="217.60" y2="668.40" stroke="#231f20" stroke-width="0.9"/>
<text x="211.40" y="671.00" font-size="7.6" text-anchor="end" fill="#231f20" stroke="#231f20" stroke-width="0.0">3</text>
<line x1="214.20" y1="702.90" x2="217.60" y2="702.90" stroke="#231f20" stroke-width="0.9"/>
<text x="211.40" y="705.50" font-size="7.6" text-anchor="end" fill="#231f20" stroke="#231f20" stroke-width="0.0">2</text>
<line x1="214.20" y1="737.20" x2="217.60" y2="737.20" stroke="#231f20" stroke-width="0.9"/>
<text x="211.40" y="739.80" font-size="7.6" text-anchor="end" fill="#231f20" stroke="#231f20" stroke-width="0.0">1</text>
<text transform="translate(200.3,685.8) rotate(-90)" x="0" y="0" font-size="8.8" text-anchor="middle" fill="#231f20" stroke="#231f20" stroke-width="0.2" textLength="89.6" lengthAdjust="spacingAndGlyphs">Number of mutated genes</text>
<path d="M248.25,634.20 L248.25,636.63 L248.24,640.14 L248.23,644.23 L248.23,648.39 L248.24,652.15 L248.25,655.00 L248.27,656.88 L248.30,658.17 L248.34,659.05 L248.38,659.70 L248.44,660.29 L248.50,661.00 L248.58,661.79 L248.68,662.50 L248.79,663.16 L248.91,663.79 L249.01,664.39 L249.10,665.00 L249.18,665.60 L249.26,666.17 L249.33,666.72 L249.39,667.27 L249.44,667.83 L249.45,668.40 L249.44,668.98 L249.39,669.57 L249.33,670.16 L249.26,670.76 L249.18,671.37 L249.10,672.00 L249.01,672.62 L248.91,673.23 L248.79,673.85 L248.68,674.50 L248.58,675.21 L248.50,676.00 L248.43,676.88 L248.38,677.85 L248.33,678.88 L248.30,679.93 L248.27,680.98 L248.25,682.00 L248.24,683.03 L248.23,684.11 L248.23,685.19 L248.24,686.22 L248.26,687.17 L248.30,688.00 L248.35,688.67 L248.41,689.22 L248.48,689.69 L248.56,690.11 L248.67,690.53 L248.80,691.00 L248.95,691.50 L249.13,692.00 L249.33,692.50 L249.54,693.00 L249.77,693.50 L250.00,694.00 L250.25,694.50 L250.52,695.00 L250.80,695.50 L251.08,696.00 L251.35,696.50 L251.60,697.00 L251.83,697.50 L252.06,698.01 L252.28,698.52 L252.48,699.02 L252.66,699.52 L252.80,700.00 L252.91,700.47 L252.99,700.94 L253.04,701.39 L253.08,701.84 L253.10,702.28 L253.10,702.70 L253.09,703.11 L253.07,703.50 L253.03,703.88 L252.97,704.25 L252.89,704.62 L252.80,705.00 L252.69,705.38 L252.56,705.77 L252.41,706.16 L252.25,706.54 L252.08,706.92 L251.90,707.30 L251.71,707.67 L251.50,708.05 L251.28,708.42 L251.05,708.79 L250.82,709.15 L250.60,709.50 L250.38,709.84 L250.15,710.18 L249.92,710.51 L249.70,710.84 L249.49,711.17 L249.30,711.50 L249.13,711.83 L248.98,712.15 L248.83,712.47 L248.71,712.80 L248.60,713.14 L248.50,713.50 L248.42,713.87 L248.37,714.24 L248.32,714.62 L248.29,715.04 L248.27,715.49 L248.25,716.00 L248.23,716.60 L248.22,717.28 L248.21,718.00 L248.21,718.72 L248.23,719.40 L248.25,720.00 L248.28,720.51 L248.32,720.96 L248.36,721.38 L248.42,721.76 L248.50,722.13 L248.60,722.50 L248.72,722.86 L248.85,723.20 L249.00,723.53 L249.17,723.85 L249.37,724.17 L249.60,724.50 L249.87,724.84 L250.18,725.19 L250.52,725.53 L250.87,725.87 L251.24,726.20 L251.60,726.50 L251.93,726.76 L252.22,726.99 L252.53,727.20 L252.88,727.42 L253.32,727.68 L253.90,728.00 L254.66,728.40 L255.56,728.86 L256.56,729.35 L257.59,729.86 L258.59,730.35 L259.50,730.80 L260.33,731.21 L261.14,731.61 L261.91,731.99 L262.65,732.37 L263.35,732.73 L264.00,733.10 L264.61,733.47 L265.18,733.84 L265.71,734.21 L266.19,734.57 L266.62,734.90 L267.00,735.20 L267.31,735.47 L267.56,735.71 L267.76,735.93 L267.93,736.13 L268.07,736.32 L268.20,736.50 L268.56,736.67 L269.17,736.83 L269.76,736.98 L270.05,737.11 L269.76,737.22 L268.60,737.30 L266.14,737.35 L262.53,737.36 L258.32,737.35 L254.12,737.33 L250.48,737.31 L248.00,737.30 L248.00,737.30 L245.52,737.31 L241.88,737.33 L237.68,737.35 L233.47,737.36 L229.86,737.35 L227.40,737.30 L226.24,737.22 L225.95,737.11 L226.24,736.98 L226.83,736.83 L227.44,736.67 L227.80,736.50 L227.93,736.32 L228.07,736.13 L228.24,735.93 L228.44,735.71 L228.69,735.47 L229.00,735.20 L229.38,734.90 L229.81,734.57 L230.29,734.21 L230.82,733.84 L231.39,733.47 L232.00,733.10 L232.65,732.73 L233.35,732.37 L234.09,731.99 L234.86,731.61 L235.67,731.21 L236.50,730.80 L237.41,730.35 L238.41,729.86 L239.44,729.35 L240.44,728.86 L241.34,728.40 L242.10,728.00 L242.68,727.68 L243.12,727.42 L243.47,727.20 L243.78,726.99 L244.07,726.76 L244.40,726.50 L244.76,726.20 L245.13,725.87 L245.48,725.53 L245.82,725.19 L246.13,724.84 L246.40,724.50 L246.63,724.17 L246.83,723.85 L247.00,723.53 L247.15,723.20 L247.28,722.86 L247.40,722.50 L247.50,722.13 L247.58,721.76 L247.64,721.38 L247.68,720.96 L247.72,720.51 L247.75,720.00 L247.77,719.40 L247.79,718.72 L247.79,718.00 L247.78,717.28 L247.77,716.60 L247.75,716.00 L247.73,715.49 L247.71,715.04 L247.68,714.62 L247.63,714.24 L247.58,713.87 L247.50,713.50 L247.40,713.14 L247.29,712.80 L247.17,712.47 L247.02,712.15 L246.87,711.83 L246.70,711.50 L246.51,711.17 L246.30,710.84 L246.08,710.51 L245.85,710.18 L245.62,709.84 L245.40,709.50 L245.18,709.15 L244.95,708.79 L244.72,708.42 L244.50,708.05 L244.29,707.67 L244.10,707.30 L243.92,706.92 L243.75,706.54 L243.59,706.16 L243.44,705.77 L243.31,705.38 L243.20,705.00 L243.11,704.62 L243.03,704.25 L242.97,703.88 L242.93,703.50 L242.91,703.11 L242.90,702.70 L242.90,702.28 L242.92,701.84 L242.96,701.39 L243.01,700.94 L243.09,700.47 L243.20,700.00 L243.34,699.52 L243.52,699.02 L243.72,698.52 L243.94,698.01 L244.17,697.50 L244.40,697.00 L244.65,696.50 L244.92,696.00 L245.20,695.50 L245.48,695.00 L245.75,694.50 L246.00,694.00 L246.23,693.50 L246.46,693.00 L246.67,692.50 L246.87,692.00 L247.05,691.50 L247.20,691.00 L247.33,690.53 L247.44,690.11 L247.52,689.69 L247.59,689.22 L247.65,688.67 L247.70,688.00 L247.74,687.17 L247.76,686.22 L247.77,685.19 L247.77,684.11 L247.76,683.03 L247.75,682.00 L247.73,680.98 L247.70,679.93 L247.67,678.88 L247.62,677.85 L247.57,676.88 L247.50,676.00 L247.42,675.21 L247.32,674.50 L247.21,673.85 L247.09,673.23 L246.99,672.62 L246.90,672.00 L246.82,671.37 L246.74,670.76 L246.67,670.16 L246.61,669.57 L246.56,668.98 L246.55,668.40 L246.56,667.83 L246.61,667.27 L246.67,666.72 L246.74,666.17 L246.82,665.60 L246.90,665.00 L246.99,664.39 L247.09,663.79 L247.21,663.16 L247.32,662.50 L247.42,661.79 L247.50,661.00 L247.56,660.29 L247.62,659.70 L247.66,659.05 L247.70,658.17 L247.73,656.88 L247.75,655.00 L247.76,652.15 L247.77,648.39 L247.77,644.23 L247.76,640.14 L247.75,636.63 L247.75,634.20 Z" fill="#d28c7e" stroke="#a8002b" stroke-width="1.45" stroke-linejoin="round"/>
<path d="M298.75,634.00 L298.75,639.97 L298.74,648.65 L298.74,658.72 L298.74,668.85 L298.74,677.72 L298.75,684.00 L298.77,687.41 L298.79,688.94 L298.82,689.22 L298.85,688.83 L298.89,688.39 L298.95,688.50 L299.01,689.03 L299.08,689.49 L299.16,689.89 L299.26,690.26 L299.37,690.62 L299.50,691.00 L299.66,691.39 L299.83,691.75 L300.02,692.11 L300.23,692.48 L300.46,692.87 L300.70,693.30 L300.97,693.77 L301.28,694.27 L301.61,694.80 L301.93,695.34 L302.23,695.87 L302.50,696.40 L302.73,696.91 L302.95,697.41 L303.14,697.91 L303.32,698.42 L303.47,698.95 L303.60,699.50 L303.71,700.08 L303.80,700.69 L303.87,701.32 L303.91,701.95 L303.92,702.58 L303.90,703.20 L303.84,703.81 L303.74,704.43 L303.62,705.04 L303.47,705.64 L303.29,706.23 L303.10,706.80 L302.88,707.35 L302.62,707.87 L302.34,708.38 L302.06,708.89 L301.77,709.39 L301.50,709.90 L301.24,710.42 L300.97,710.93 L300.71,711.44 L300.46,711.96 L300.22,712.48 L300.00,713.00 L299.80,713.53 L299.60,714.06 L299.42,714.60 L299.26,715.14 L299.11,715.67 L299.00,716.20 L298.92,716.72 L298.86,717.24 L298.82,717.76 L298.81,718.27 L298.80,718.78 L298.80,719.30 L298.80,719.82 L298.80,720.35 L298.82,720.88 L298.85,721.40 L298.91,721.91 L299.00,722.40 L299.11,722.86 L299.23,723.30 L299.38,723.73 L299.56,724.15 L299.80,724.57 L300.10,725.00 L300.46,725.43 L300.88,725.85 L301.34,726.27 L301.87,726.70 L302.45,727.14 L303.10,727.60 L303.83,728.09 L304.64,728.60 L305.51,729.12 L306.43,729.65 L307.36,730.18 L308.30,730.70 L309.27,731.23 L310.30,731.77 L311.34,732.31 L312.38,732.84 L313.38,733.34 L314.30,733.80 L315.17,734.21 L316.01,734.60 L316.81,734.95 L317.56,735.28 L318.22,735.60 L318.80,735.90 L319.53,736.20 L320.49,736.50 L321.36,736.78 L321.87,737.03 L321.71,737.24 L320.60,737.40 L318.04,737.49 L314.19,737.51 L309.66,737.49 L305.11,737.46 L301.18,737.42 L298.50,737.40 L298.50,737.40 L295.82,737.42 L291.89,737.46 L287.34,737.49 L282.81,737.51 L278.96,737.49 L276.40,737.40 L275.29,737.24 L275.13,737.03 L275.64,736.78 L276.51,736.50 L277.47,736.20 L278.20,735.90 L278.78,735.60 L279.44,735.28 L280.19,734.95 L280.99,734.60 L281.83,734.21 L282.70,733.80 L283.62,733.34 L284.62,732.84 L285.66,732.31 L286.70,731.77 L287.73,731.23 L288.70,730.70 L289.64,730.18 L290.57,729.65 L291.49,729.12 L292.36,728.60 L293.17,728.09 L293.90,727.60 L294.55,727.14 L295.13,726.70 L295.66,726.27 L296.12,725.85 L296.54,725.43 L296.90,725.00 L297.20,724.57 L297.44,724.15 L297.62,723.73 L297.77,723.30 L297.89,722.86 L298.00,722.40 L298.09,721.91 L298.15,721.40 L298.18,720.88 L298.20,720.35 L298.20,719.82 L298.20,719.30 L298.20,718.78 L298.19,718.27 L298.18,717.76 L298.14,717.24 L298.08,716.72 L298.00,716.20 L297.89,715.67 L297.74,715.14 L297.58,714.60 L297.40,714.06 L297.20,713.53 L297.00,713.00 L296.78,712.48 L296.54,711.96 L296.29,711.44 L296.03,710.93 L295.76,710.42 L295.50,709.90 L295.23,709.39 L294.94,708.89 L294.66,708.38 L294.38,707.87 L294.12,707.35 L293.90,706.80 L293.71,706.23 L293.53,705.64 L293.38,705.04 L293.26,704.43 L293.16,703.81 L293.10,703.20 L293.08,702.58 L293.09,701.95 L293.13,701.32 L293.20,700.69 L293.29,700.08 L293.40,699.50 L293.53,698.95 L293.68,698.42 L293.86,697.91 L294.05,697.41 L294.27,696.91 L294.50,696.40 L294.77,695.87 L295.07,695.34 L295.39,694.80 L295.72,694.27 L296.03,693.77 L296.30,693.30 L296.54,692.87 L296.77,692.48 L296.98,692.11 L297.17,691.75 L297.34,691.39 L297.50,691.00 L297.63,690.62 L297.74,690.26 L297.84,689.89 L297.92,689.49 L297.99,689.03 L298.05,688.50 L298.11,688.39 L298.15,688.83 L298.18,689.22 L298.21,688.94 L298.23,687.41 L298.25,684.00 L298.26,677.72 L298.26,668.85 L298.26,658.72 L298.26,648.65 L298.25,639.97 L298.25,634.00 Z" fill="#999ec0" stroke="#1f3f7f" stroke-width="1.45" stroke-linejoin="round"/>
<rect x="245.90" y="735.20" width="4.20" height="4.20" fill="#4a2a6a"/>
<rect x="296.30" y="735.30" width="4.40" height="4.20" fill="#5a2a6a"/>
<text x="248.15" y="752.20" font-size="7.5" text-anchor="middle" fill="#231f20" stroke="#231f20" stroke-width="0.0" textLength="25.50" lengthAdjust="spacingAndGlyphs">Anemia</text>
<text x="298.50" y="752.30" font-size="7.5" text-anchor="middle" fill="#231f20" stroke="#231f20" stroke-width="0.0" textLength="25.80" lengthAdjust="spacingAndGlyphs">Control</text>
<text x="346.00" y="618.40" font-size="14.2" text-anchor="start" fill="#000" font-weight="bold">E</text>
<line x1="387.2" y1="740.3" x2="512" y2="740.3" stroke="#9a9a9a" stroke-width="0.9" stroke-dasharray="3,2.2"/>
<line x1="387.20" y1="625.20" x2="387.20" y2="743.30" stroke="#231f20" stroke-width="1.2"/>
<line x1="386.60" y1="742.70" x2="512.00" y2="742.70" stroke="#231f20" stroke-width="1.2"/>
<line x1="383.80" y1="740.40" x2="387.20" y2="740.40" stroke="#231f20" stroke-width="0.9"/>
<text x="380.80" y="743.10" font-size="7.6" text-anchor="end" fill="#231f20" stroke="#231f20" stroke-width="0.0">1</text>
<line x1="383.80" y1="721.90" x2="387.20" y2="721.90" stroke="#231f20" stroke-width="0.9"/>
<text x="380.80" y="724.60" font-size="7.6" text-anchor="end" fill="#231f20" stroke="#231f20" stroke-width="0.0">10</text>
<line x1="383.80" y1="703.40" x2="387.20" y2="703.40" stroke="#231f20" stroke-width="0.9"/>
<text x="380.80" y="706.10" font-size="7.6" text-anchor="end" fill="#231f20" stroke="#231f20" stroke-width="0.0">20</text>
<line x1="383.80" y1="684.90" x2="387.20" y2="684.90" stroke="#231f20" stroke-width="0.9"/>
<text x="380.80" y="687.60" font-size="7.6" text-anchor="end" fill="#231f20" stroke="#231f20" stroke-width="0.0">30</text>
<line x1="383.80" y1="666.40" x2="387.20" y2="666.40" stroke="#231f20" stroke-width="0.9"/>
<text x="380.80" y="669.10" font-size="7.6" text-anchor="end" fill="#231f20" stroke="#231f20" stroke-width="0.0">40</text>
<line x1="383.80" y1="647.90" x2="387.20" y2="647.90" stroke="#231f20" stroke-width="0.9"/>
<text x="380.80" y="650.60" font-size="7.6" text-anchor="end" fill="#231f20" stroke="#231f20" stroke-width="0.0">50</text>
<line x1="383.80" y1="629.40" x2="387.20" y2="629.40" stroke="#231f20" stroke-width="0.9"/>
<text x="380.80" y="632.10" font-size="7.6" text-anchor="end" fill="#231f20" stroke="#231f20" stroke-width="0.0">60</text>
<text transform="translate(365.9,684.0) rotate(-90)" x="0" y="0" font-size="9.6" text-anchor="middle" fill="#231f20" stroke="#231f20" stroke-width="0.2" textLength="53.4" lengthAdjust="spacingAndGlyphs">Highest VAF (%)</text>
<rect x="420.75" y="706.90" width="0.90" height="19.10" fill="#3a3a3a"/>
<rect x="409.90" y="726.00" width="22.60" height="12.80" fill="none" stroke="#231f20" stroke-width="1.0"/>
<line x1="409.40" y1="736.10" x2="433.00" y2="736.10" stroke="#231f20" stroke-width="1.0"/>
<circle cx="421.30" cy="627.30" r="1.2" fill="#a8002d"/>
<circle cx="424.10" cy="655.70" r="1.2" fill="#a8002d"/>
<circle cx="415.90" cy="657.40" r="1.2" fill="#a8002d"/>
<circle cx="425.10" cy="659.30" r="1.2" fill="#a8002d"/>
<circle cx="426.90" cy="659.30" r="1.2" fill="#a8002d"/>
<circle cx="424.60" cy="664.80" r="1.2" fill="#a8002d"/>
<circle cx="426.50" cy="667.00" r="1.2" fill="#a8002d"/>
<circle cx="416.60" cy="670.80" r="1.2" fill="#a8002d"/>
<circle cx="421.00" cy="672.60" r="1.2" fill="#a8002d"/>
<circle cx="425.90" cy="674.50" r="1.2" fill="#a8002d"/>
<circle cx="418.70" cy="680.10" r="1.2" fill="#a8002d"/>
<circle cx="422.00" cy="680.00" r="1.2" fill="#a8002d"/>
<circle cx="422.90" cy="681.90" r="1.2" fill="#a8002d"/>
<circle cx="426.30" cy="681.90" r="1.2" fill="#a8002d"/>
<circle cx="415.90" cy="687.60" r="1.2" fill="#a8002d"/>
<circle cx="422.30" cy="687.60" r="1.2" fill="#a8002d"/>
<circle cx="418.50" cy="689.50" r="1.2" fill="#a8002d"/>
<circle cx="418.00" cy="691.10" r="1.2" fill="#a8002d"/>
<circle cx="416.90" cy="693.10" r="1.2" fill="#a8002d"/>
<circle cx="418.90" cy="695.00" r="1.2" fill="#a8002d"/>
<circle cx="422.00" cy="693.10" r="1.2" fill="#a8002d"/>
<circle cx="422.00" cy="695.00" r="1.2" fill="#a8002d"/>
<circle cx="425.00" cy="693.10" r="1.2" fill="#a8002d"/>
<circle cx="426.40" cy="695.00" r="1.2" fill="#a8002d"/>
<circle cx="425.80" cy="697.00" r="1.2" fill="#a8002d"/>
<circle cx="424.10" cy="701.00" r="1.2" fill="#a8002d"/>
<circle cx="420.20" cy="702.80" r="1.2" fill="#a8002d"/>
<circle cx="416.20" cy="704.40" r="1.2" fill="#a8002d"/>
<circle cx="423.10" cy="704.40" r="1.2" fill="#a8002d"/>
<circle cx="424.30" cy="700.80" r="1.2" fill="#a8002d"/>
<circle cx="419.80" cy="702.50" r="1.2" fill="#a8002d"/>
<circle cx="415.20" cy="704.70" r="1.2" fill="#a8002d"/>
<circle cx="416.80" cy="704.70" r="1.2" fill="#a8002d"/>
<circle cx="422.90" cy="704.70" r="1.2" fill="#a8002d"/>
<circle cx="416.30" cy="706.60" r="1.2" fill="#a8002d"/>
<circle cx="425.10" cy="708.30" r="1.2" fill="#a8002d"/>
<circle cx="415.20" cy="710.20" r="1.2" fill="#a8002d"/>
<circle cx="417.10" cy="710.20" r="1.2" fill="#a8002d"/>
<circle cx="418.50" cy="710.50" r="1.2" fill="#a8002d"/>
<circle cx="424.00" cy="710.20" r="1.2" fill="#a8002d"/>
<circle cx="416.30" cy="711.80" r="1.2" fill="#a8002d"/>
<circle cx="420.90" cy="712.10" r="1.2" fill="#a8002d"/>
<circle cx="423.20" cy="711.80" r="1.2" fill="#a8002d"/>
<circle cx="424.50" cy="713.80" r="1.2" fill="#a8002d"/>
<circle cx="425.90" cy="716.00" r="1.2" fill="#a8002d"/>
<circle cx="419.60" cy="716.00" r="1.2" fill="#a8002d"/>
<circle cx="417.10" cy="717.60" r="1.2" fill="#a8002d"/>
<circle cx="421.80" cy="717.60" r="1.2" fill="#a8002d"/>
<circle cx="425.60" cy="719.60" r="1.2" fill="#a8002d"/>
<circle cx="415.70" cy="720.40" r="1.2" fill="#a8002d"/>
<circle cx="419.00" cy="719.60" r="1.2" fill="#a8002d"/>
<circle cx="422.50" cy="715.20" r="1.2" fill="#a8002d"/>
<circle cx="418.20" cy="714.00" r="1.2" fill="#a8002d"/>
<circle cx="426.80" cy="712.50" r="1.2" fill="#a8002d"/>
<circle cx="421.97" cy="735.96" r="1.2" fill="#a8002d"/>
<circle cx="420.76" cy="723.53" r="1.2" fill="#a8002d"/>
<circle cx="422.32" cy="735.29" r="1.2" fill="#a8002d"/>
<circle cx="421.35" cy="738.47" r="1.2" fill="#a8002d"/>
<circle cx="424.95" cy="733.50" r="1.2" fill="#a8002d"/>
<circle cx="418.68" cy="739.13" r="1.2" fill="#a8002d"/>
<circle cx="425.16" cy="739.15" r="1.2" fill="#a8002d"/>
<circle cx="415.34" cy="732.32" r="1.2" fill="#a8002d"/>
<circle cx="427.15" cy="714.42" r="1.2" fill="#a8002d"/>
<circle cx="422.68" cy="733.08" r="1.2" fill="#a8002d"/>
<circle cx="414.99" cy="738.67" r="1.2" fill="#a8002d"/>
<circle cx="415.56" cy="735.03" r="1.2" fill="#a8002d"/>
<circle cx="417.90" cy="738.43" r="1.2" fill="#a8002d"/>
<circle cx="420.74" cy="739.56" r="1.2" fill="#a8002d"/>
<circle cx="425.58" cy="736.10" r="1.2" fill="#a8002d"/>
<circle cx="423.00" cy="735.15" r="1.2" fill="#a8002d"/>
<circle cx="423.28" cy="735.40" r="1.2" fill="#a8002d"/>
<circle cx="418.36" cy="735.91" r="1.2" fill="#a8002d"/>
<circle cx="423.86" cy="728.22" r="1.2" fill="#a8002d"/>
<circle cx="417.74" cy="737.37" r="1.2" fill="#a8002d"/>
<circle cx="415.70" cy="737.61" r="1.2" fill="#a8002d"/>
<circle cx="419.93" cy="730.61" r="1.2" fill="#a8002d"/>
<circle cx="419.75" cy="727.96" r="1.2" fill="#a8002d"/>
<circle cx="425.65" cy="719.81" r="1.2" fill="#a8002d"/>
<circle cx="417.48" cy="739.75" r="1.2" fill="#a8002d"/>
<circle cx="420.82" cy="724.59" r="1.2" fill="#a8002d"/>
<circle cx="419.89" cy="715.03" r="1.2" fill="#a8002d"/>
<circle cx="422.86" cy="739.28" r="1.2" fill="#a8002d"/>
<circle cx="418.25" cy="730.27" r="1.2" fill="#a8002d"/>
<circle cx="419.06" cy="739.18" r="1.2" fill="#a8002d"/>
<circle cx="424.50" cy="718.83" r="1.2" fill="#a8002d"/>
<circle cx="417.95" cy="738.96" r="1.2" fill="#a8002d"/>
<circle cx="415.57" cy="739.08" r="1.2" fill="#a8002d"/>
<circle cx="417.07" cy="729.72" r="1.2" fill="#a8002d"/>
<circle cx="420.53" cy="734.60" r="1.2" fill="#a8002d"/>
<circle cx="424.17" cy="738.42" r="1.2" fill="#a8002d"/>
<circle cx="423.04" cy="738.87" r="1.2" fill="#a8002d"/>
<circle cx="420.19" cy="738.97" r="1.2" fill="#a8002d"/>
<circle cx="418.25" cy="738.25" r="1.2" fill="#a8002d"/>
<circle cx="425.08" cy="717.50" r="1.2" fill="#a8002d"/>
<circle cx="426.13" cy="737.47" r="1.2" fill="#a8002d"/>
<circle cx="419.85" cy="738.26" r="1.2" fill="#a8002d"/>
<circle cx="423.02" cy="727.63" r="1.2" fill="#a8002d"/>
<circle cx="427.46" cy="739.09" r="1.2" fill="#a8002d"/>
<circle cx="418.11" cy="738.24" r="1.2" fill="#a8002d"/>
<circle cx="419.01" cy="730.43" r="1.2" fill="#a8002d"/>
<circle cx="415.74" cy="737.54" r="1.2" fill="#a8002d"/>
<circle cx="422.26" cy="739.16" r="1.2" fill="#a8002d"/>
<circle cx="422.50" cy="738.00" r="1.2" fill="#a8002d"/>
<circle cx="420.60" cy="736.83" r="1.2" fill="#a8002d"/>
<circle cx="420.99" cy="719.64" r="1.2" fill="#a8002d"/>
<circle cx="425.89" cy="734.38" r="1.2" fill="#a8002d"/>
<circle cx="416.77" cy="738.48" r="1.2" fill="#a8002d"/>
<circle cx="425.27" cy="724.72" r="1.2" fill="#a8002d"/>
<circle cx="417.23" cy="737.95" r="1.2" fill="#a8002d"/>
<circle cx="426.84" cy="731.29" r="1.2" fill="#a8002d"/>
<circle cx="426.96" cy="738.38" r="1.2" fill="#a8002d"/>
<circle cx="422.53" cy="726.30" r="1.2" fill="#a8002d"/>
<circle cx="416.13" cy="736.31" r="1.2" fill="#a8002d"/>
<circle cx="427.12" cy="739.50" r="1.2" fill="#a8002d"/>
<circle cx="423.82" cy="738.04" r="1.2" fill="#a8002d"/>
<circle cx="425.34" cy="737.88" r="1.2" fill="#a8002d"/>
<circle cx="418.56" cy="734.04" r="1.2" fill="#a8002d"/>
<circle cx="424.02" cy="738.54" r="1.2" fill="#a8002d"/>
<circle cx="417.72" cy="739.30" r="1.2" fill="#a8002d"/>
<circle cx="425.71" cy="734.60" r="1.2" fill="#a8002d"/>
<circle cx="418.39" cy="733.76" r="1.2" fill="#a8002d"/>
<circle cx="417.41" cy="724.07" r="1.2" fill="#a8002d"/>
<circle cx="418.25" cy="739.65" r="1.2" fill="#a8002d"/>
<circle cx="415.57" cy="736.04" r="1.2" fill="#a8002d"/>
<circle cx="419.52" cy="738.53" r="1.2" fill="#a8002d"/>
<circle cx="416.48" cy="734.41" r="1.2" fill="#a8002d"/>
<circle cx="426.20" cy="736.92" r="1.2" fill="#a8002d"/>
<circle cx="423.21" cy="714.99" r="1.2" fill="#a8002d"/>
<circle cx="422.28" cy="732.36" r="1.2" fill="#a8002d"/>
<circle cx="415.25" cy="738.80" r="1.2" fill="#a8002d"/>
<circle cx="426.45" cy="739.64" r="1.2" fill="#a8002d"/>
<circle cx="427.12" cy="732.16" r="1.2" fill="#a8002d"/>
<circle cx="422.94" cy="739.62" r="1.2" fill="#a8002d"/>
<circle cx="424.15" cy="735.61" r="1.2" fill="#a8002d"/>
<circle cx="427.59" cy="737.34" r="1.2" fill="#a8002d"/>
<circle cx="421.79" cy="739.26" r="1.2" fill="#a8002d"/>
<circle cx="426.32" cy="731.35" r="1.2" fill="#a8002d"/>
<circle cx="423.81" cy="731.35" r="1.2" fill="#a8002d"/>
<circle cx="426.51" cy="729.84" r="1.2" fill="#a8002d"/>
<circle cx="423.57" cy="737.03" r="1.2" fill="#a8002d"/>
<circle cx="425.95" cy="725.22" r="1.2" fill="#a8002d"/>
<circle cx="424.92" cy="736.36" r="1.2" fill="#a8002d"/>
<circle cx="422.13" cy="727.23" r="1.2" fill="#a8002d"/>
<circle cx="419.69" cy="733.58" r="1.2" fill="#a8002d"/>
<circle cx="422.59" cy="734.26" r="1.2" fill="#a8002d"/>
<circle cx="422.98" cy="739.23" r="1.2" fill="#a8002d"/>
<circle cx="424.12" cy="726.43" r="1.2" fill="#a8002d"/>
<circle cx="424.21" cy="736.66" r="1.2" fill="#a8002d"/>
<circle cx="420.44" cy="734.28" r="1.2" fill="#a8002d"/>
<circle cx="415.87" cy="728.29" r="1.2" fill="#a8002d"/>
<circle cx="415.18" cy="731.03" r="1.2" fill="#a8002d"/>
<circle cx="420.96" cy="733.97" r="1.2" fill="#a8002d"/>
<circle cx="423.74" cy="738.11" r="1.2" fill="#a8002d"/>
<circle cx="422.67" cy="735.43" r="1.2" fill="#a8002d"/>
<circle cx="418.07" cy="723.83" r="1.2" fill="#a8002d"/>
<circle cx="418.65" cy="739.68" r="1.2" fill="#a8002d"/>
<circle cx="417.39" cy="732.62" r="1.2" fill="#a8002d"/>
<circle cx="426.39" cy="738.58" r="1.2" fill="#a8002d"/>
<circle cx="420.46" cy="732.97" r="1.2" fill="#a8002d"/>
<circle cx="418.99" cy="725.77" r="1.2" fill="#a8002d"/>
<circle cx="417.34" cy="732.86" r="1.2" fill="#a8002d"/>
<circle cx="425.12" cy="736.21" r="1.2" fill="#a8002d"/>
<circle cx="426.07" cy="724.30" r="1.2" fill="#a8002d"/>
<circle cx="422.26" cy="736.70" r="1.2" fill="#a8002d"/>
<circle cx="416.54" cy="737.36" r="1.2" fill="#a8002d"/>
<circle cx="425.51" cy="735.44" r="1.2" fill="#a8002d"/>
<circle cx="423.90" cy="727.87" r="1.2" fill="#a8002d"/>
<circle cx="418.34" cy="720.91" r="1.2" fill="#a8002d"/>
<circle cx="420.57" cy="738.59" r="1.2" fill="#a8002d"/>
<circle cx="417.54" cy="737.73" r="1.2" fill="#a8002d"/>
<circle cx="422.81" cy="736.39" r="1.2" fill="#a8002d"/>
<circle cx="418.84" cy="735.47" r="1.2" fill="#a8002d"/>
<circle cx="427.37" cy="728.26" r="1.2" fill="#a8002d"/>
<circle cx="415.76" cy="735.96" r="1.2" fill="#a8002d"/>
<circle cx="425.97" cy="739.55" r="1.2" fill="#a8002d"/>
<circle cx="423.87" cy="739.49" r="1.2" fill="#a8002d"/>
<circle cx="418.76" cy="734.44" r="1.2" fill="#a8002d"/>
<circle cx="415.04" cy="729.89" r="1.2" fill="#a8002d"/>
<circle cx="420.62" cy="738.83" r="1.2" fill="#a8002d"/>
<circle cx="425.42" cy="739.60" r="1.2" fill="#a8002d"/>
<circle cx="416.60" cy="738.05" r="1.2" fill="#a8002d"/>
<circle cx="422.85" cy="739.45" r="1.2" fill="#a8002d"/>
<circle cx="422.86" cy="736.03" r="1.2" fill="#a8002d"/>
<circle cx="425.13" cy="733.06" r="1.2" fill="#a8002d"/>
<circle cx="423.56" cy="719.74" r="1.2" fill="#a8002d"/>
<circle cx="420.88" cy="738.35" r="1.2" fill="#a8002d"/>
<circle cx="414.94" cy="738.51" r="1.2" fill="#a8002d"/>
<circle cx="423.94" cy="735.73" r="1.2" fill="#a8002d"/>
<circle cx="418.29" cy="738.51" r="1.2" fill="#a8002d"/>
<circle cx="423.73" cy="737.08" r="1.2" fill="#a8002d"/>
<circle cx="422.66" cy="735.13" r="1.2" fill="#a8002d"/>
<circle cx="419.84" cy="730.87" r="1.2" fill="#a8002d"/>
<circle cx="426.40" cy="729.88" r="1.2" fill="#a8002d"/>
<circle cx="426.74" cy="739.18" r="1.2" fill="#a8002d"/>
<circle cx="416.46" cy="731.69" r="1.2" fill="#a8002d"/>
<circle cx="422.81" cy="735.95" r="1.2" fill="#a8002d"/>
<circle cx="419.62" cy="724.61" r="1.2" fill="#a8002d"/>
<circle cx="426.06" cy="734.46" r="1.2" fill="#a8002d"/>
<circle cx="426.89" cy="729.73" r="1.2" fill="#a8002d"/>
<circle cx="423.14" cy="735.83" r="1.2" fill="#a8002d"/>
<circle cx="424.04" cy="738.31" r="1.2" fill="#a8002d"/>
<circle cx="423.01" cy="729.02" r="1.2" fill="#a8002d"/>
<circle cx="417.53" cy="731.80" r="1.2" fill="#a8002d"/>
<circle cx="427.35" cy="725.27" r="1.2" fill="#a8002d"/>
<circle cx="421.67" cy="715.93" r="1.2" fill="#a8002d"/>
<circle cx="418.90" cy="729.91" r="1.2" fill="#a8002d"/>
<circle cx="425.75" cy="724.61" r="1.2" fill="#a8002d"/>
<circle cx="415.86" cy="737.06" r="1.2" fill="#a8002d"/>
<circle cx="421.84" cy="736.10" r="1.2" fill="#a8002d"/>
<circle cx="421.04" cy="730.56" r="1.2" fill="#a8002d"/>
<circle cx="425.16" cy="739.57" r="1.2" fill="#a8002d"/>
<circle cx="425.04" cy="739.34" r="1.2" fill="#a8002d"/>
<circle cx="419.09" cy="738.56" r="1.2" fill="#a8002d"/>
<circle cx="416.60" cy="730.00" r="1.2" fill="#a8002d"/>
<circle cx="421.41" cy="738.74" r="1.2" fill="#a8002d"/>
<circle cx="425.55" cy="731.66" r="1.2" fill="#a8002d"/>
<circle cx="426.91" cy="732.40" r="1.2" fill="#a8002d"/>
<circle cx="426.95" cy="735.49" r="1.2" fill="#a8002d"/>
<circle cx="417.63" cy="739.19" r="1.2" fill="#a8002d"/>
<circle cx="418.51" cy="735.05" r="1.2" fill="#a8002d"/>
<circle cx="422.98" cy="731.54" r="1.2" fill="#a8002d"/>
<circle cx="425.60" cy="735.10" r="1.2" fill="#a8002d"/>
<circle cx="418.79" cy="734.59" r="1.2" fill="#a8002d"/>
<circle cx="425.62" cy="736.73" r="1.2" fill="#a8002d"/>
<circle cx="417.47" cy="725.24" r="1.2" fill="#a8002d"/>
<circle cx="427.20" cy="727.79" r="1.2" fill="#a8002d"/>
<circle cx="422.13" cy="735.08" r="1.2" fill="#a8002d"/>
<circle cx="421.66" cy="738.34" r="1.2" fill="#a8002d"/>
<circle cx="422.55" cy="735.35" r="1.2" fill="#a8002d"/>
<circle cx="427.21" cy="739.58" r="1.2" fill="#a8002d"/>
<circle cx="419.93" cy="735.19" r="1.2" fill="#a8002d"/>
<circle cx="422.00" cy="729.60" r="1.2" fill="#a8002d"/>
<circle cx="423.64" cy="735.50" r="1.2" fill="#a8002d"/>
<circle cx="421.70" cy="739.32" r="1.2" fill="#a8002d"/>
<circle cx="427.05" cy="736.39" r="1.2" fill="#a8002d"/>
<circle cx="418.25" cy="723.59" r="1.2" fill="#a8002d"/>
<circle cx="416.43" cy="735.72" r="1.2" fill="#a8002d"/>
<circle cx="425.24" cy="736.18" r="1.2" fill="#a8002d"/>
<circle cx="420.90" cy="725.23" r="1.2" fill="#a8002d"/>
<circle cx="417.25" cy="737.35" r="1.2" fill="#a8002d"/>
<circle cx="426.64" cy="733.70" r="1.2" fill="#a8002d"/>
<circle cx="424.77" cy="738.88" r="1.2" fill="#a8002d"/>
<circle cx="417.28" cy="739.61" r="1.2" fill="#a8002d"/>
<circle cx="423.59" cy="738.13" r="1.2" fill="#a8002d"/>
<circle cx="419.35" cy="737.31" r="1.2" fill="#a8002d"/>
<circle cx="416.14" cy="733.67" r="1.2" fill="#a8002d"/>
<circle cx="416.37" cy="731.50" r="1.2" fill="#a8002d"/>
<circle cx="418.01" cy="735.26" r="1.2" fill="#a8002d"/>
<circle cx="421.59" cy="738.37" r="1.2" fill="#a8002d"/>
<circle cx="419.61" cy="736.14" r="1.2" fill="#a8002d"/>
<circle cx="421.58" cy="736.40" r="1.2" fill="#a8002d"/>
<circle cx="417.41" cy="738.66" r="1.2" fill="#a8002d"/>
<circle cx="422.97" cy="733.48" r="1.2" fill="#a8002d"/>
<circle cx="425.70" cy="735.01" r="1.2" fill="#a8002d"/>
<circle cx="425.77" cy="733.80" r="1.2" fill="#a8002d"/>
<circle cx="424.28" cy="738.09" r="1.2" fill="#a8002d"/>
<circle cx="426.35" cy="729.29" r="1.2" fill="#a8002d"/>
<circle cx="418.83" cy="737.36" r="1.2" fill="#a8002d"/>
<circle cx="417.59" cy="723.64" r="1.2" fill="#a8002d"/>
<circle cx="416.51" cy="726.01" r="1.2" fill="#a8002d"/>
<circle cx="424.10" cy="738.03" r="1.2" fill="#a8002d"/>
<circle cx="416.04" cy="737.86" r="1.2" fill="#a8002d"/>
<circle cx="420.20" cy="728.53" r="1.2" fill="#a8002d"/>
<circle cx="416.41" cy="729.94" r="1.2" fill="#a8002d"/>
<circle cx="423.57" cy="736.51" r="1.2" fill="#a8002d"/>
<circle cx="417.37" cy="739.64" r="1.2" fill="#a8002d"/>
<circle cx="426.47" cy="732.54" r="1.2" fill="#a8002d"/>
<circle cx="416.28" cy="718.03" r="1.2" fill="#a8002d"/>
<circle cx="424.50" cy="735.32" r="1.2" fill="#a8002d"/>
<circle cx="423.58" cy="735.36" r="1.2" fill="#a8002d"/>
<circle cx="415.70" cy="738.43" r="1.2" fill="#a8002d"/>
<circle cx="415.28" cy="739.05" r="1.2" fill="#a8002d"/>
<circle cx="421.39" cy="734.71" r="1.2" fill="#a8002d"/>
<circle cx="416.68" cy="734.46" r="1.2" fill="#a8002d"/>
<circle cx="417.41" cy="738.47" r="1.2" fill="#a8002d"/>
<circle cx="427.48" cy="728.22" r="1.2" fill="#a8002d"/>
<circle cx="416.02" cy="723.30" r="1.2" fill="#a8002d"/>
<circle cx="426.98" cy="739.35" r="1.2" fill="#a8002d"/>
<circle cx="424.59" cy="735.85" r="1.2" fill="#a8002d"/>
<circle cx="420.78" cy="737.26" r="1.2" fill="#a8002d"/>
<circle cx="420.31" cy="735.20" r="1.2" fill="#a8002d"/>
<circle cx="414.97" cy="733.97" r="1.2" fill="#a8002d"/>
<circle cx="425.61" cy="732.16" r="1.2" fill="#a8002d"/>
<circle cx="420.61" cy="738.49" r="1.2" fill="#a8002d"/>
<rect x="477.55" y="729.20" width="0.90" height="0.00" fill="#3a3a3a"/>
<rect x="466.80" y="729.20" width="22.40" height="9.80" fill="none" stroke="#231f20" stroke-width="1.0"/>
<line x1="466.30" y1="737.50" x2="489.70" y2="737.50" stroke="#231f20" stroke-width="1.0"/>
<circle cx="477.90" cy="653.80" r="1.2" fill="#27488a"/>
<circle cx="477.10" cy="657.40" r="1.2" fill="#27488a"/>
<circle cx="479.00" cy="659.60" r="1.2" fill="#27488a"/>
<circle cx="477.40" cy="668.80" r="1.2" fill="#27488a"/>
<circle cx="475.70" cy="674.50" r="1.2" fill="#27488a"/>
<circle cx="483.10" cy="676.20" r="1.2" fill="#27488a"/>
<circle cx="480.10" cy="678.10" r="1.2" fill="#27488a"/>
<circle cx="480.30" cy="680.00" r="1.2" fill="#27488a"/>
<circle cx="482.20" cy="682.00" r="1.2" fill="#27488a"/>
<circle cx="478.10" cy="683.90" r="1.2" fill="#27488a"/>
<circle cx="472.50" cy="687.60" r="1.2" fill="#27488a"/>
<circle cx="482.80" cy="687.60" r="1.2" fill="#27488a"/>
<circle cx="477.90" cy="691.40" r="1.2" fill="#27488a"/>
<circle cx="476.90" cy="693.20" r="1.2" fill="#27488a"/>
<circle cx="479.40" cy="695.10" r="1.2" fill="#27488a"/>
<circle cx="472.80" cy="698.90" r="1.2" fill="#27488a"/>
<circle cx="481.30" cy="698.90" r="1.2" fill="#27488a"/>
<circle cx="472.70" cy="699.00" r="1.2" fill="#27488a"/>
<circle cx="481.30" cy="699.00" r="1.2" fill="#27488a"/>
<circle cx="479.20" cy="702.70" r="1.2" fill="#27488a"/>
<circle cx="481.00" cy="702.70" r="1.2" fill="#27488a"/>
<circle cx="472.50" cy="704.60" r="1.2" fill="#27488a"/>
<circle cx="472.10" cy="709.80" r="1.2" fill="#27488a"/>
<circle cx="472.50" cy="711.10" r="1.2" fill="#27488a"/>
<circle cx="472.70" cy="712.30" r="1.2" fill="#27488a"/>
<circle cx="480.70" cy="710.10" r="1.2" fill="#27488a"/>
<circle cx="482.90" cy="710.10" r="1.2" fill="#27488a"/>
<circle cx="477.90" cy="713.50" r="1.2" fill="#27488a"/>
<circle cx="472.40" cy="716.00" r="1.2" fill="#27488a"/>
<circle cx="483.50" cy="717.50" r="1.2" fill="#27488a"/>
<circle cx="476.50" cy="716.80" r="1.2" fill="#27488a"/>
<circle cx="479.00" cy="718.50" r="1.2" fill="#27488a"/>
<circle cx="472.60" cy="720.20" r="1.2" fill="#27488a"/>
<circle cx="483.60" cy="722.00" r="1.2" fill="#27488a"/>
<circle cx="475.50" cy="721.30" r="1.2" fill="#27488a"/>
<circle cx="476.90" cy="732.29" r="1.2" fill="#27488a"/>
<circle cx="474.11" cy="738.55" r="1.2" fill="#27488a"/>
<circle cx="472.38" cy="735.76" r="1.2" fill="#27488a"/>
<circle cx="481.50" cy="727.34" r="1.2" fill="#27488a"/>
<circle cx="482.18" cy="732.98" r="1.2" fill="#27488a"/>
<circle cx="476.89" cy="734.24" r="1.2" fill="#27488a"/>
<circle cx="478.05" cy="734.67" r="1.2" fill="#27488a"/>
<circle cx="481.54" cy="717.24" r="1.2" fill="#27488a"/>
<circle cx="482.77" cy="738.09" r="1.2" fill="#27488a"/>
<circle cx="481.22" cy="732.18" r="1.2" fill="#27488a"/>
<circle cx="476.91" cy="730.40" r="1.2" fill="#27488a"/>
<circle cx="482.41" cy="727.16" r="1.2" fill="#27488a"/>
<circle cx="481.10" cy="733.17" r="1.2" fill="#27488a"/>
<circle cx="476.91" cy="731.71" r="1.2" fill="#27488a"/>
<circle cx="473.02" cy="732.64" r="1.2" fill="#27488a"/>
<circle cx="477.64" cy="737.43" r="1.2" fill="#27488a"/>
<circle cx="476.33" cy="739.69" r="1.2" fill="#27488a"/>
<circle cx="479.44" cy="734.10" r="1.2" fill="#27488a"/>
<circle cx="483.16" cy="738.29" r="1.2" fill="#27488a"/>
<circle cx="476.12" cy="733.66" r="1.2" fill="#27488a"/>
<circle cx="478.81" cy="733.77" r="1.2" fill="#27488a"/>
<circle cx="476.72" cy="735.53" r="1.2" fill="#27488a"/>
<circle cx="480.33" cy="734.05" r="1.2" fill="#27488a"/>
<circle cx="483.57" cy="731.79" r="1.2" fill="#27488a"/>
<circle cx="479.34" cy="739.62" r="1.2" fill="#27488a"/>
<circle cx="475.18" cy="732.30" r="1.2" fill="#27488a"/>
<circle cx="472.79" cy="736.90" r="1.2" fill="#27488a"/>
<circle cx="476.56" cy="738.55" r="1.2" fill="#27488a"/>
<circle cx="475.11" cy="739.18" r="1.2" fill="#27488a"/>
<circle cx="478.58" cy="726.65" r="1.2" fill="#27488a"/>
<circle cx="483.42" cy="735.82" r="1.2" fill="#27488a"/>
<circle cx="483.74" cy="735.09" r="1.2" fill="#27488a"/>
<circle cx="481.59" cy="734.11" r="1.2" fill="#27488a"/>
<circle cx="479.13" cy="739.31" r="1.2" fill="#27488a"/>
<circle cx="472.72" cy="731.85" r="1.2" fill="#27488a"/>
<circle cx="474.06" cy="724.98" r="1.2" fill="#27488a"/>
<circle cx="474.16" cy="736.21" r="1.2" fill="#27488a"/>
<circle cx="479.29" cy="735.96" r="1.2" fill="#27488a"/>
<circle cx="483.17" cy="739.42" r="1.2" fill="#27488a"/>
<circle cx="478.31" cy="736.72" r="1.2" fill="#27488a"/>
<circle cx="476.44" cy="734.70" r="1.2" fill="#27488a"/>
<circle cx="479.80" cy="737.88" r="1.2" fill="#27488a"/>
<circle cx="475.49" cy="735.19" r="1.2" fill="#27488a"/>
<circle cx="475.63" cy="732.75" r="1.2" fill="#27488a"/>
<circle cx="475.04" cy="739.67" r="1.2" fill="#27488a"/>
<circle cx="474.02" cy="739.51" r="1.2" fill="#27488a"/>
<circle cx="476.72" cy="731.95" r="1.2" fill="#27488a"/>
<circle cx="480.88" cy="727.11" r="1.2" fill="#27488a"/>
<circle cx="483.67" cy="739.47" r="1.2" fill="#27488a"/>
<circle cx="473.05" cy="723.71" r="1.2" fill="#27488a"/>
<circle cx="477.18" cy="726.66" r="1.2" fill="#27488a"/>
<circle cx="483.49" cy="736.15" r="1.2" fill="#27488a"/>
<circle cx="478.27" cy="738.20" r="1.2" fill="#27488a"/>
<circle cx="480.58" cy="724.38" r="1.2" fill="#27488a"/>
<circle cx="483.55" cy="736.25" r="1.2" fill="#27488a"/>
<circle cx="479.20" cy="730.34" r="1.2" fill="#27488a"/>
<circle cx="479.44" cy="739.07" r="1.2" fill="#27488a"/>
<circle cx="474.56" cy="736.38" r="1.2" fill="#27488a"/>
<circle cx="478.33" cy="739.46" r="1.2" fill="#27488a"/>
<circle cx="477.34" cy="739.02" r="1.2" fill="#27488a"/>
<circle cx="477.48" cy="733.63" r="1.2" fill="#27488a"/>
<circle cx="478.95" cy="738.07" r="1.2" fill="#27488a"/>
<circle cx="481.22" cy="736.73" r="1.2" fill="#27488a"/>
<circle cx="483.77" cy="735.55" r="1.2" fill="#27488a"/>
<circle cx="480.72" cy="722.83" r="1.2" fill="#27488a"/>
<circle cx="473.52" cy="738.24" r="1.2" fill="#27488a"/>
<circle cx="481.30" cy="727.36" r="1.2" fill="#27488a"/>
<circle cx="476.37" cy="734.31" r="1.2" fill="#27488a"/>
<circle cx="480.15" cy="737.99" r="1.2" fill="#27488a"/>
<circle cx="479.06" cy="735.13" r="1.2" fill="#27488a"/>
<circle cx="480.94" cy="734.19" r="1.2" fill="#27488a"/>
<circle cx="475.09" cy="738.58" r="1.2" fill="#27488a"/>
<circle cx="482.82" cy="718.12" r="1.2" fill="#27488a"/>
<circle cx="472.66" cy="728.04" r="1.2" fill="#27488a"/>
<circle cx="475.34" cy="739.40" r="1.2" fill="#27488a"/>
<circle cx="479.43" cy="736.68" r="1.2" fill="#27488a"/>
<circle cx="478.48" cy="739.15" r="1.2" fill="#27488a"/>
<circle cx="473.20" cy="739.33" r="1.2" fill="#27488a"/>
<circle cx="478.59" cy="733.49" r="1.2" fill="#27488a"/>
<circle cx="476.53" cy="734.22" r="1.2" fill="#27488a"/>
<circle cx="474.64" cy="736.14" r="1.2" fill="#27488a"/>
<circle cx="480.84" cy="737.42" r="1.2" fill="#27488a"/>
<circle cx="473.06" cy="729.63" r="1.2" fill="#27488a"/>
<circle cx="481.59" cy="739.04" r="1.2" fill="#27488a"/>
<circle cx="481.12" cy="734.33" r="1.2" fill="#27488a"/>
<circle cx="477.12" cy="738.42" r="1.2" fill="#27488a"/>
<circle cx="481.59" cy="738.10" r="1.2" fill="#27488a"/>
<circle cx="479.78" cy="737.20" r="1.2" fill="#27488a"/>
<circle cx="475.97" cy="714.63" r="1.2" fill="#27488a"/>
<circle cx="480.85" cy="735.34" r="1.2" fill="#27488a"/>
<circle cx="477.16" cy="725.68" r="1.2" fill="#27488a"/>
<circle cx="473.33" cy="737.19" r="1.2" fill="#27488a"/>
<circle cx="473.11" cy="728.20" r="1.2" fill="#27488a"/>
<circle cx="478.74" cy="739.27" r="1.2" fill="#27488a"/>
<circle cx="480.15" cy="736.07" r="1.2" fill="#27488a"/>
<circle cx="481.20" cy="737.78" r="1.2" fill="#27488a"/>
<circle cx="474.67" cy="739.31" r="1.2" fill="#27488a"/>
<circle cx="473.15" cy="733.73" r="1.2" fill="#27488a"/>
<circle cx="480.61" cy="737.74" r="1.2" fill="#27488a"/>
<circle cx="475.48" cy="733.18" r="1.2" fill="#27488a"/>
<circle cx="476.35" cy="738.90" r="1.2" fill="#27488a"/>
<circle cx="476.45" cy="732.57" r="1.2" fill="#27488a"/>
<circle cx="480.43" cy="739.06" r="1.2" fill="#27488a"/>
<circle cx="482.86" cy="735.08" r="1.2" fill="#27488a"/>
<circle cx="482.80" cy="724.14" r="1.2" fill="#27488a"/>
<circle cx="481.52" cy="736.55" r="1.2" fill="#27488a"/>
<circle cx="475.88" cy="737.74" r="1.2" fill="#27488a"/>
<circle cx="483.04" cy="736.92" r="1.2" fill="#27488a"/>
<circle cx="475.08" cy="727.26" r="1.2" fill="#27488a"/>
<circle cx="476.44" cy="737.26" r="1.2" fill="#27488a"/>
<circle cx="476.79" cy="737.25" r="1.2" fill="#27488a"/>
<circle cx="474.46" cy="737.03" r="1.2" fill="#27488a"/>
<circle cx="481.45" cy="735.15" r="1.2" fill="#27488a"/>
<circle cx="481.90" cy="735.44" r="1.2" fill="#27488a"/>
<circle cx="474.25" cy="735.16" r="1.2" fill="#27488a"/>
<circle cx="482.42" cy="731.86" r="1.2" fill="#27488a"/>
<circle cx="472.46" cy="737.92" r="1.2" fill="#27488a"/>
<circle cx="478.51" cy="735.73" r="1.2" fill="#27488a"/>
<circle cx="483.41" cy="735.10" r="1.2" fill="#27488a"/>
<circle cx="481.53" cy="733.91" r="1.2" fill="#27488a"/>
<circle cx="478.54" cy="739.39" r="1.2" fill="#27488a"/>
<circle cx="473.17" cy="731.14" r="1.2" fill="#27488a"/>
<circle cx="480.75" cy="739.28" r="1.2" fill="#27488a"/>
<circle cx="473.18" cy="727.02" r="1.2" fill="#27488a"/>
<circle cx="473.87" cy="734.17" r="1.2" fill="#27488a"/>
<circle cx="479.73" cy="732.15" r="1.2" fill="#27488a"/>
<circle cx="474.76" cy="738.19" r="1.2" fill="#27488a"/>
<circle cx="478.25" cy="731.71" r="1.2" fill="#27488a"/>
<circle cx="476.77" cy="731.72" r="1.2" fill="#27488a"/>
<circle cx="483.43" cy="737.46" r="1.2" fill="#27488a"/>
<circle cx="477.93" cy="733.56" r="1.2" fill="#27488a"/>
<circle cx="480.56" cy="735.47" r="1.2" fill="#27488a"/>
<circle cx="482.81" cy="732.92" r="1.2" fill="#27488a"/>
<circle cx="481.78" cy="736.82" r="1.2" fill="#27488a"/>
<circle cx="482.10" cy="733.65" r="1.2" fill="#27488a"/>
<circle cx="481.87" cy="730.65" r="1.2" fill="#27488a"/>
<circle cx="483.31" cy="727.57" r="1.2" fill="#27488a"/>
<circle cx="478.28" cy="734.08" r="1.2" fill="#27488a"/>
<circle cx="481.51" cy="732.88" r="1.2" fill="#27488a"/>
<circle cx="477.08" cy="736.71" r="1.2" fill="#27488a"/>
<circle cx="480.80" cy="738.88" r="1.2" fill="#27488a"/>
<circle cx="476.56" cy="713.60" r="1.2" fill="#27488a"/>
<circle cx="474.57" cy="738.73" r="1.2" fill="#27488a"/>
<circle cx="475.59" cy="736.68" r="1.2" fill="#27488a"/>
<circle cx="472.89" cy="720.34" r="1.2" fill="#27488a"/>
<circle cx="473.53" cy="737.71" r="1.2" fill="#27488a"/>
<circle cx="481.20" cy="733.96" r="1.2" fill="#27488a"/>
<circle cx="472.92" cy="738.65" r="1.2" fill="#27488a"/>
<circle cx="478.98" cy="736.35" r="1.2" fill="#27488a"/>
<circle cx="472.62" cy="726.43" r="1.2" fill="#27488a"/>
<circle cx="474.34" cy="739.11" r="1.2" fill="#27488a"/>
<circle cx="474.93" cy="738.39" r="1.2" fill="#27488a"/>
<circle cx="479.10" cy="732.74" r="1.2" fill="#27488a"/>
<circle cx="474.35" cy="738.35" r="1.2" fill="#27488a"/>
<circle cx="474.20" cy="737.92" r="1.2" fill="#27488a"/>
<circle cx="475.82" cy="731.89" r="1.2" fill="#27488a"/>
<circle cx="481.68" cy="735.34" r="1.2" fill="#27488a"/>
<circle cx="475.22" cy="736.13" r="1.2" fill="#27488a"/>
<circle cx="482.81" cy="727.63" r="1.2" fill="#27488a"/>
<circle cx="478.55" cy="737.43" r="1.2" fill="#27488a"/>
<circle cx="477.80" cy="722.29" r="1.2" fill="#27488a"/>
<circle cx="472.78" cy="738.37" r="1.2" fill="#27488a"/>
<circle cx="481.50" cy="723.39" r="1.2" fill="#27488a"/>
<circle cx="478.32" cy="737.05" r="1.2" fill="#27488a"/>
<circle cx="475.38" cy="735.73" r="1.2" fill="#27488a"/>
<circle cx="479.83" cy="714.06" r="1.2" fill="#27488a"/>
<circle cx="472.33" cy="738.25" r="1.2" fill="#27488a"/>
<circle cx="476.51" cy="736.20" r="1.2" fill="#27488a"/>
<circle cx="480.47" cy="730.91" r="1.2" fill="#27488a"/>
<circle cx="474.02" cy="734.58" r="1.2" fill="#27488a"/>
<circle cx="475.93" cy="738.81" r="1.2" fill="#27488a"/>
<circle cx="482.28" cy="738.09" r="1.2" fill="#27488a"/>
<circle cx="479.59" cy="735.72" r="1.2" fill="#27488a"/>
<circle cx="475.29" cy="712.12" r="1.2" fill="#27488a"/>
<circle cx="473.95" cy="735.51" r="1.2" fill="#27488a"/>
<circle cx="472.22" cy="731.59" r="1.2" fill="#27488a"/>
<circle cx="482.02" cy="730.19" r="1.2" fill="#27488a"/>
<circle cx="473.16" cy="730.17" r="1.2" fill="#27488a"/>
<circle cx="480.51" cy="738.01" r="1.2" fill="#27488a"/>
<circle cx="477.77" cy="739.19" r="1.2" fill="#27488a"/>
<circle cx="483.28" cy="736.24" r="1.2" fill="#27488a"/>
<circle cx="482.15" cy="734.85" r="1.2" fill="#27488a"/>
<circle cx="481.36" cy="737.74" r="1.2" fill="#27488a"/>
<circle cx="482.83" cy="736.76" r="1.2" fill="#27488a"/>
<circle cx="481.79" cy="739.22" r="1.2" fill="#27488a"/>
<text x="421.20" y="752.50" font-size="7.5" text-anchor="middle" fill="#231f20" stroke="#231f20" stroke-width="0.0" textLength="26.20" lengthAdjust="spacingAndGlyphs">Anemia</text>
<text x="478.05" y="752.50" font-size="7.5" text-anchor="middle" fill="#231f20" stroke="#231f20" stroke-width="0.0" textLength="24.70" lengthAdjust="spacingAndGlyphs">Control</text>
<rect x="0.5" y="0.5" width="519" height="761" fill="none" stroke="#000" stroke-width="1"/>
</svg>
</body></html>
